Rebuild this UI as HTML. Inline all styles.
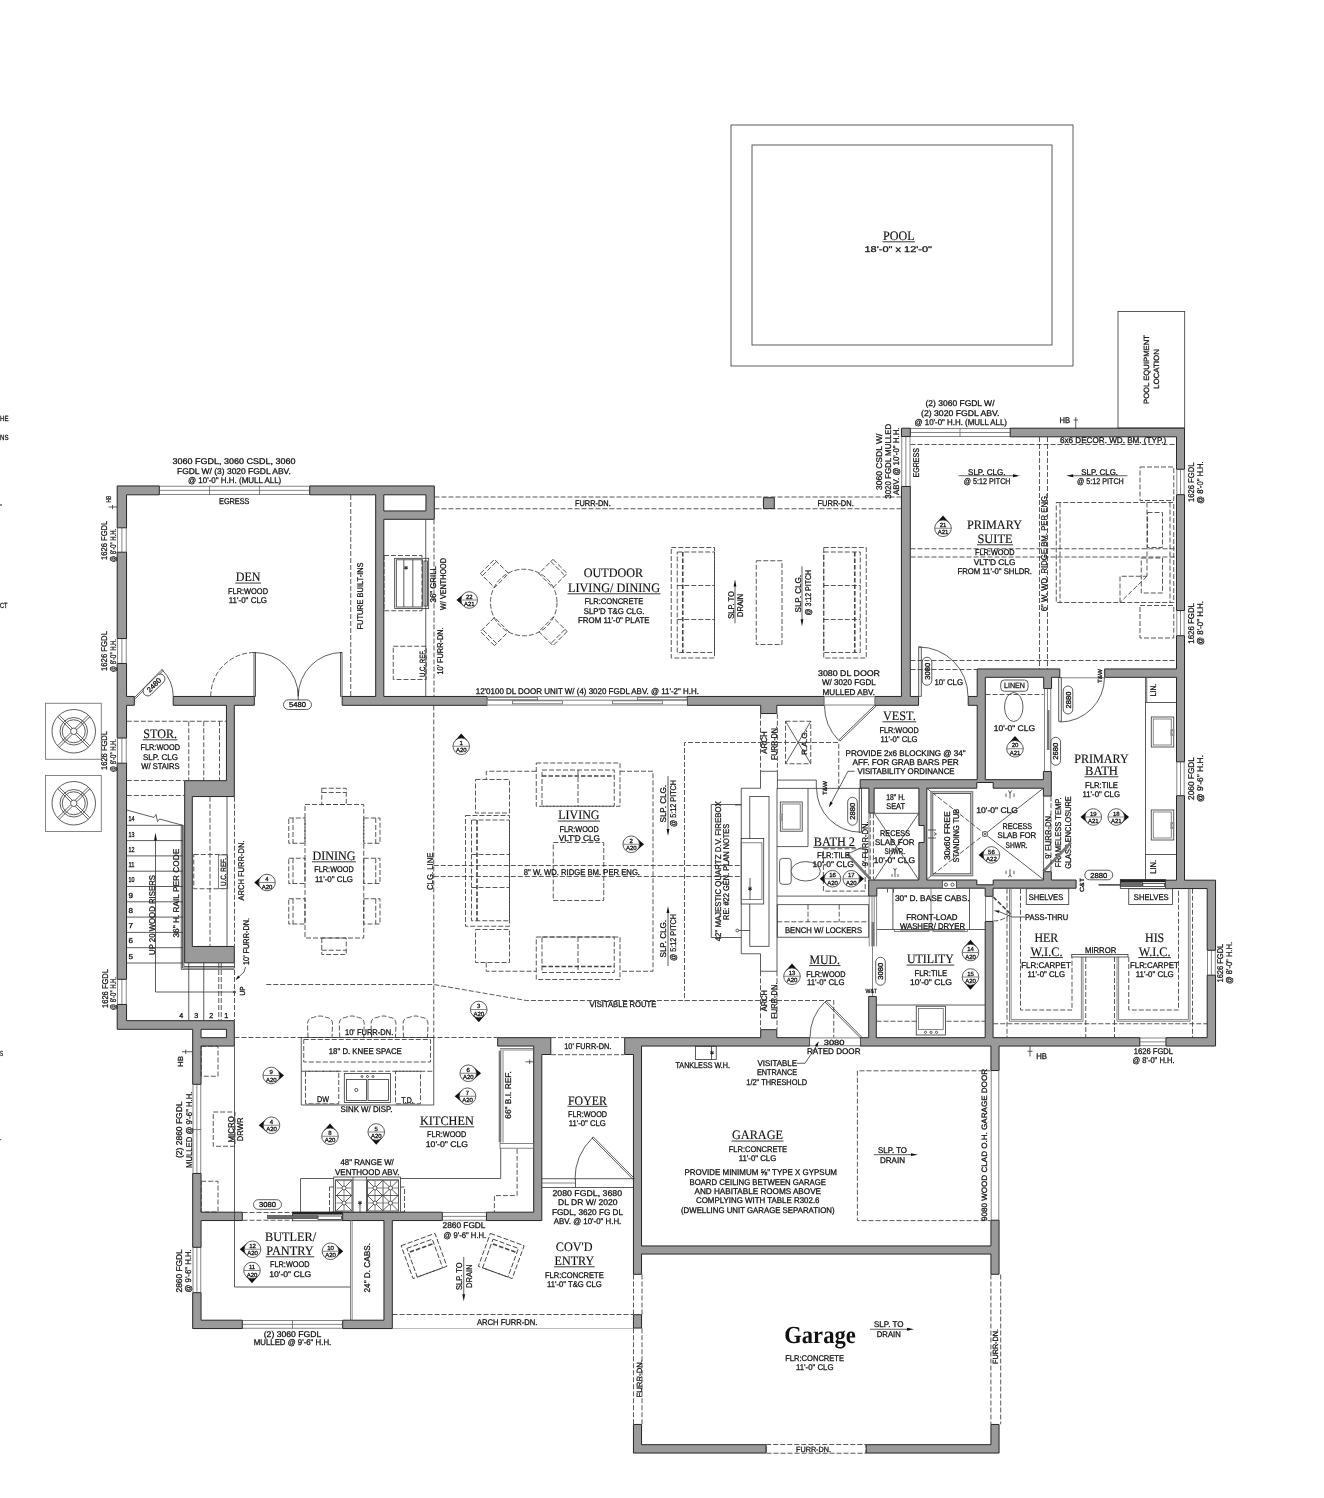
<!DOCTYPE html>
<html><head><meta charset="utf-8"><title>Floor Plan</title><style>
html,body{margin:0;padding:0;background:#fff}
svg{display:block;font-family:"Liberation Sans",sans-serif;will-change:transform;text-rendering:geometricPrecision}
.w{fill:#9a9a9a;stroke:#262626;stroke-width:1;stroke-linejoin:miter}
.t{fill:none;stroke:#333;stroke-width:.8}
.tw{fill:#fff;stroke:#333;stroke-width:.8}
.tk{fill:none;stroke:#222;stroke-width:1.3}
.g{fill:none;stroke:#666;stroke-width:.8}
.gg{fill:none;stroke:#8a8a8a;stroke-width:1.6}
.gb{fill:none;stroke:#777;stroke-width:2.6}
.d{fill:none;stroke:#3a3a3a;stroke-width:.85;stroke-dasharray:5 2}
.dd{fill:none;stroke:#555;stroke-width:.8;stroke-dasharray:1 1}
.dk{fill:none;stroke:#444;stroke-width:1.6;stroke-dasharray:4.5 2}
.wn{fill:#fff;stroke:none}
.k{fill:#111;stroke:none}
.bk{fill:#222;stroke:none}
.gf{fill:#6a6a6a;stroke:#333;stroke-width:.6}
.u{fill:none;stroke:#3a3a3a;stroke-width:1}
.l{fill:#111;stroke:#111;stroke-width:.28}
.lb{fill:#111;stroke:#111;stroke-width:.3}
.s{fill:#111;stroke:#111;stroke-width:.15;font-family:"Liberation Serif",serif}
.sb{fill:#111;font-family:"Liberation Serif",serif;font-weight:bold}
</style></head><body>
<svg width="1324" height="1498" viewBox="0 0 1324 1498">
<rect class="wn" x="159.5" y="485.75" width="150" height="9.25"/>
<path class="g" d="M159.5 486.25L309.5 486.25"/>
<path class="g" d="M159.5 490.38L309.5 490.38"/>
<path class="g" d="M159.5 494.5L309.5 494.5"/>
<path class="g" d="M209.5 485.75L209.5 495"/>
<path class="g" d="M259.5 485.75L259.5 495"/>
<rect class="wn" x="117" y="528" width="9.75" height="24"/>
<path class="g" d="M117.5 528L117.5 552"/>
<path class="g" d="M121.88 528L121.88 552"/>
<path class="g" d="M126.25 528L126.25 552"/>
<rect class="wn" x="117" y="638.75" width="9.75" height="24.5"/>
<path class="g" d="M117.5 638.75L117.5 663.25"/>
<path class="g" d="M121.88 638.75L121.88 663.25"/>
<path class="g" d="M126.25 638.75L126.25 663.25"/>
<rect class="wn" x="117" y="738.25" width="9.75" height="24.75"/>
<path class="g" d="M117.5 738.25L117.5 763"/>
<path class="g" d="M121.88 738.25L121.88 763"/>
<path class="g" d="M126.25 738.25L126.25 763"/>
<rect class="wn" x="117" y="979.5" width="9.75" height="24.75"/>
<path class="g" d="M117.5 979.5L117.5 1004.25"/>
<path class="g" d="M121.88 979.5L121.88 1004.25"/>
<path class="g" d="M126.25 979.5L126.25 1004.25"/>
<rect class="wn" x="192.5" y="1084.5" width="8.75" height="88.75"/>
<path class="g" d="M193 1084.5L193 1173.25"/>
<path class="g" d="M196.88 1084.5L196.88 1173.25"/>
<path class="g" d="M200.75 1084.5L200.75 1173.25"/>
<path class="g" d="M192.5 1129.5L201.25 1129.5"/>
<rect class="wn" x="192.5" y="1247.5" width="8.75" height="45"/>
<path class="g" d="M193 1247.5L193 1292.5"/>
<path class="g" d="M196.88 1247.5L196.88 1292.5"/>
<path class="g" d="M200.75 1247.5L200.75 1292.5"/>
<rect class="wn" x="242.5" y="1320" width="100" height="8.75"/>
<path class="g" d="M242.5 1320.5L342.5 1320.5"/>
<path class="g" d="M242.5 1324.38L342.5 1324.38"/>
<path class="g" d="M242.5 1328.25L342.5 1328.25"/>
<path class="g" d="M292.5 1320L292.5 1328.75"/>
<rect class="wn" x="442.5" y="1212" width="43.75" height="8.75"/>
<path class="g" d="M442.5 1212.5L486.25 1212.5"/>
<path class="g" d="M442.5 1216.38L486.25 1216.38"/>
<path class="g" d="M442.5 1220.25L486.25 1220.25"/>
<rect class="wn" x="901.25" y="436.75" width="9.25" height="49.5"/>
<path class="g" d="M901.75 436.75L901.75 486.25"/>
<path class="g" d="M905.88 436.75L905.88 486.25"/>
<path class="g" d="M910 436.75L910 486.25"/>
<rect class="wn" x="910.5" y="428" width="99.5" height="9"/>
<path class="g" d="M910.5 428.5L1010 428.5"/>
<path class="g" d="M910.5 432.5L1010 432.5"/>
<path class="g" d="M910.5 436.5L1010 436.5"/>
<path class="g" d="M960 428L960 437"/>
<rect class="wn" x="1176.3" y="469.5" width="8.4" height="25"/>
<path class="g" d="M1176.8 469.5L1176.8 494.5"/>
<path class="g" d="M1180.5 469.5L1180.5 494.5"/>
<path class="g" d="M1184.2 469.5L1184.2 494.5"/>
<rect class="wn" x="1176.3" y="610.75" width="8.4" height="24.75"/>
<path class="g" d="M1176.8 610.75L1176.8 635.5"/>
<path class="g" d="M1180.5 610.75L1180.5 635.5"/>
<path class="g" d="M1184.2 610.75L1184.2 635.5"/>
<rect class="wn" x="1176.3" y="762" width="8.4" height="33.5"/>
<path class="g" d="M1176.8 762L1176.8 795.5"/>
<path class="g" d="M1180.5 762L1180.5 795.5"/>
<path class="g" d="M1184.2 762L1184.2 795.5"/>
<rect class="wn" x="1207" y="950.5" width="8.75" height="24.5"/>
<path class="g" d="M1207.5 950.5L1207.5 975"/>
<path class="g" d="M1211.38 950.5L1211.38 975"/>
<path class="g" d="M1215.25 950.5L1215.25 975"/>
<rect class="wn" x="1140" y="1037.5" width="25.75" height="8.75"/>
<path class="g" d="M1140 1038L1165.75 1038"/>
<path class="g" d="M1140 1041.88L1165.75 1041.88"/>
<path class="g" d="M1140 1045.75L1165.75 1045.75"/>
<path class="w" fill-rule="evenodd" d="M1165.95 1037.7L1165.95 1046.05L1215.55 1046.05L1215.55 975.2L1207.2 975.2L1207.2 1037.7ZM1165.2 880.2L1165.2 888.55L1207.2 888.55L1207.2 950.3L1215.55 950.3L1215.55 880.2L1184.5 880.2L1184.5 795.7L1176.5 795.7L1176.5 880.2ZM1184.5 610.55L1184.5 494.7L1176.5 494.7L1176.5 610.55ZM1184.5 469.3L1184.5 428.2L1010.2 428.2L1010.2 436.8L1176.5 436.8L1176.5 469.3ZM1176.5 761.8L1184.5 761.8L1184.5 635.7L1176.5 635.7L1176.5 668.95L1104.7 668.95L1104.7 677.3L1176.5 677.3ZM860.2 1037.7L860.2 1046.05L990.95 1046.05L990.95 1070.55L999.05 1070.55L999.05 1046.05L1139.8 1046.05L1139.8 1037.7L993.05 1037.7L993.05 921.45L985.2 921.45L985.2 1037.7L876.3 1037.7L876.3 996.45L868.7 996.45L868.7 1037.7ZM874.1 813.1L874.1 788.2L918.9 788.2L918.9 825.5L924.1 825.5L924.1 842.5L918.9 842.5L918.9 880L868.7 880L868.7 896.1L876.8 896.1L876.8 888.2L985.2 888.2L985.2 896.3L993.05 896.3L993.05 888.2L1076.1 888.2L1076.1 880L1051.3 880L1051.3 871.7L1043.4 871.7L1043.4 880L993.2 880L993.2 884.8L976.8 884.8L976.8 880L926.8 880L926.8 788.2L976.8 788.2L976.8 782.5L993.2 782.5L993.2 788.2L1043.4 788.2L1043.4 796.1L1051.3 796.1L1051.3 771.5L1043.4 771.5L1043.4 779.7L985.3 779.7L985.3 677.3L1043.7 677.3L1043.7 688.55L1051.55 688.55L1051.55 677.3L1059.8 677.3L1059.8 668.95L977.2 668.95L977.2 696.45L968.2 696.45L968.2 705.3L977.2 705.3L977.2 779.7L860.2 779.7L860.2 788.2L868.9 788.2L868.9 813.1ZM999.05 1453.05L999.05 1424.45L990.95 1424.45L990.95 1444.7L866.2 1444.7L866.2 1453.05ZM624.7 1054.5L633.45 1054.5L633.45 1274.3L641.55 1274.3L641.55 1254.05L990.95 1254.05L990.95 1274.3L999.05 1274.3L999.05 1220.2L990.95 1220.2L990.95 1245.95L641.55 1245.95L641.55 1046.05L809.8 1046.05L809.8 1037.7L776.8 1037.7L776.8 1029.7L760.7 1029.7L760.7 1037.7L624.7 1037.7ZM918.55 705.3L918.55 696.45L910.3 696.45L910.3 486.45L901.45 486.45L901.45 696.45L874.7 696.45L874.7 705.3ZM910.3 428.2L901.45 428.2L901.45 436.55L910.3 436.55ZM776.8 713.55L776.8 705.3L824.3 705.3L824.3 696.45L687.2 696.45L687.2 705.3L760.7 705.3L760.7 713.55ZM774.3 508.55L774.3 497.7L763.45 497.7L763.45 508.55ZM766.05 1444.7L641.55 1444.7L641.55 1424.45L633.45 1424.45L633.45 1453.05L766.05 1453.05ZM641.55 1328.05L641.55 1314.7L633.45 1314.7L633.45 1328.05ZM486.45 1220.55L541.8 1220.55L541.8 1054.5L550.8 1054.5L550.8 1037.7L497.7 1037.7L497.7 1046.05L533.7 1046.05L533.7 1212.2L486.45 1212.2ZM487.3 696.45L383.8 696.45L383.8 519.3L434.3 519.3L434.3 485.95L309.7 485.95L309.7 494.8L375.7 494.8L375.7 696.45L342.2 696.45L342.2 705.3L487.3 705.3ZM425.95 510.95L383.8 510.95L383.8 494.8L425.95 494.8ZM383.95 1220.55L383.95 1320.2L342.7 1320.2L342.7 1328.55L392.3 1328.55L392.3 1220.55L442.3 1220.55L442.3 1212.2L342.7 1212.2L342.7 1220.55ZM184.7 780.7L184.7 962.8L234.3 962.8L234.3 946.45L192.3 946.45L192.3 796.55L234.3 796.55L234.3 705.3L254.3 705.3L254.3 696.45L173.2 696.45L173.2 705.3L226.45 705.3L226.45 780.7ZM242.3 1320.2L201.05 1320.2L201.05 1292.7L192.7 1292.7L192.7 1328.55L242.3 1328.55ZM201.05 1220.55L242.3 1220.55L242.3 1212.2L201.05 1212.2L201.05 1173.45L192.7 1173.45L192.7 1247.3L201.05 1247.3ZM192.7 1029.3L192.7 1084.3L201.05 1084.3L201.05 1046.05L234.3 1046.05L234.3 1020.7L126.55 1020.7L126.55 1004.45L117.2 1004.45L117.2 1029.3ZM226.45 1037.7L201.05 1037.7L201.05 1029.3L226.45 1029.3ZM159.3 485.95L117.2 485.95L117.2 527.8L126.55 527.8L126.55 494.8L159.3 494.8ZM134.3 705.3L134.3 696.45L126.55 696.45L126.55 663.45L117.2 663.45L117.2 738.05L126.55 738.05L126.55 705.3ZM126.55 638.55L126.55 552.2L117.2 552.2L117.2 638.55ZM126.55 979.3L126.55 763.2L117.2 763.2L117.2 979.3Z"/>
<rect class="t" x="731" y="125" width="342" height="241"/>
<rect class="t" x="752" y="145" width="300" height="200"/>
<text class="s" x="883" y="240" font-size="13" textLength="31.5" lengthAdjust="spacingAndGlyphs">POOL</text>
<path class="u" d="M882.5 241.8L915 241.8"/>
<text class="l" x="864.5" y="251.99" font-size="8.3" textLength="67.5" lengthAdjust="spacingAndGlyphs">18'-0" x 12'-0"</text>
<rect class="t" x="1118" y="311.5" width="66.7" height="116.5"/>
<text class="l" transform="translate(1146 369.5) rotate(-90)" x="-34.5" y="2.74" font-size="7.6" textLength="69" lengthAdjust="spacingAndGlyphs">POOL EQUIPMENT</text>
<text class="l" transform="translate(1156 369) rotate(-90)" x="-20" y="2.74" font-size="7.6" textLength="40" lengthAdjust="spacingAndGlyphs">LOCATION</text>
<text class="l" x="0" y="420.7" font-size="7.5" textLength="8.5" lengthAdjust="spacingAndGlyphs">HE</text>
<text class="l" x="0" y="439.7" font-size="7.5" textLength="8.5" lengthAdjust="spacingAndGlyphs">NS</text>
<text class="l" x="0" y="504.7" font-size="7.5" textLength="2" lengthAdjust="spacingAndGlyphs">,</text>
<text class="l" x="0" y="608.2" font-size="7.5" textLength="7.5" lengthAdjust="spacingAndGlyphs">CT</text>
<text class="l" x="0" y="1055.7" font-size="7.5" textLength="3" lengthAdjust="spacingAndGlyphs">S</text>
<text class="l" x="0" y="1139.7" font-size="7.5" textLength="1.5" lengthAdjust="spacingAndGlyphs">.</text>
<text class="l" x="172.5" y="464.24" font-size="8.3" textLength="123" lengthAdjust="spacingAndGlyphs">3060 FGDL, 3060 CSDL, 3060</text>
<text class="l" x="177" y="473.99" font-size="8.3" textLength="113.75" lengthAdjust="spacingAndGlyphs">FGDL W/ (3) 3020 FGDL ABV.</text>
<text class="l" x="188" y="482.99" font-size="8.3" textLength="93.25" lengthAdjust="spacingAndGlyphs">@ 10'-0" H.H. (MULL ALL)</text>
<text class="l" x="219" y="503.99" font-size="8.3" textLength="30.5" lengthAdjust="spacingAndGlyphs">EGRESS</text>
<text class="s" x="235.75" y="581.25" font-size="13" textLength="24.75" lengthAdjust="spacingAndGlyphs">DEN</text>
<path class="u" d="M235.25 583.05L261 583.05"/>
<text class="l" x="228" y="593.99" font-size="8.3" textLength="40" lengthAdjust="spacingAndGlyphs">FLR:WOOD</text>
<text class="l" x="228.75" y="602.99" font-size="8.3" textLength="38.25" lengthAdjust="spacingAndGlyphs">11'-0" CLG</text>
<path class="d" d="M350.75 495L350.75 696.25"/>
<text class="l" transform="translate(360 596) rotate(-90)" x="-33.5" y="2.99" font-size="8.3" textLength="67" lengthAdjust="spacingAndGlyphs">FUTURE BUILT-INS</text>
<text class="l" transform="translate(103.8 540.38) rotate(-90)" x="-19.62" y="2.99" font-size="8.3" textLength="39.25" lengthAdjust="spacingAndGlyphs">1626 FGDL</text>
<text class="l" transform="translate(113.4 545.38) rotate(-90)" x="-16.62" y="2.99" font-size="8.3" textLength="33.25" lengthAdjust="spacingAndGlyphs">@ 8'-0" H.H.</text>
<text class="l" transform="translate(103.8 651) rotate(-90)" x="-20" y="2.99" font-size="8.3" textLength="40" lengthAdjust="spacingAndGlyphs">1626 FGDL</text>
<text class="l" transform="translate(113.4 655.5) rotate(-90)" x="-16.5" y="2.99" font-size="8.3" textLength="33" lengthAdjust="spacingAndGlyphs">@ 8'-0" H.H.</text>
<text class="l" transform="translate(103.8 750.5) rotate(-90)" x="-19.5" y="2.99" font-size="8.3" textLength="39" lengthAdjust="spacingAndGlyphs">1626 FGDL</text>
<text class="l" transform="translate(113.4 755.5) rotate(-90)" x="-16.5" y="2.99" font-size="8.3" textLength="33" lengthAdjust="spacingAndGlyphs">@ 8'-0" H.H.</text>
<text class="l" transform="translate(104.5 988.5) rotate(-90)" x="-19.5" y="2.99" font-size="8.3" textLength="39" lengthAdjust="spacingAndGlyphs">1626 FGDL</text>
<text class="l" transform="translate(113.25 993.5) rotate(-90)" x="-16.5" y="2.99" font-size="8.3" textLength="33" lengthAdjust="spacingAndGlyphs">@ 8'-0" H.H.</text>
<text class="l" transform="translate(108.25 499.25) rotate(-90)" x="-3.25" y="2.52" font-size="7" textLength="6.5" lengthAdjust="spacingAndGlyphs">HB</text>
<path class="t" d="M108.5 507L117 507"/>
<path class="t" d="M112.5 505L112.5 509"/>
<path class="t" d="M134.5 697.5L162 669.5L163 670.6L135.6 698.4Z"/>
<path class="t" d="M161.7 669.33A38.8 38.8 0 0 1 173.29 696.32"/>
<g transform="translate(154 685) rotate(-45)"><rect class="tw" x="-13.5" y="-4.7" width="27" height="9.4" rx="4.7"/><text class="lb" text-anchor="middle" x="0" y="2.6" font-size="7.2" textLength="17" lengthAdjust="spacingAndGlyphs">2480</text></g>
<rect class="t" x="254" y="652.5" width="1.6" height="43.75"/>
<rect class="t" x="340.4" y="652.5" width="1.6" height="43.75"/>
<path class="d" d="M210.75 696.25A43.75 43.75 0 0 1 254.5 652.5"/>
<path class="t" d="M254.5 652.5A43.75 43.75 0 0 1 298.25 696.25"/>
<path class="t" d="M298.25 696.25A43.75 43.75 0 0 1 342 652.5"/>
<path class="t" d="M298.25 690L298.25 700"/>
<g transform="translate(297.5 704.7) rotate(0)"><rect class="tw" x="-14" y="-4.8" width="28" height="9.6" rx="4.8"/><text class="lb" text-anchor="middle" x="0" y="2.6" font-size="7.2" textLength="17" lengthAdjust="spacingAndGlyphs">5480</text></g>
<text class="s" x="143.25" y="738" font-size="13" textLength="33.75" lengthAdjust="spacingAndGlyphs">STOR.</text>
<path class="u" d="M142.75 739.8L177.5 739.8"/>
<text class="l" x="140.5" y="750.49" font-size="8.3" textLength="39.5" lengthAdjust="spacingAndGlyphs">FLR:WOOD</text>
<text class="l" x="143" y="759.74" font-size="8.3" textLength="35" lengthAdjust="spacingAndGlyphs">SLP. CLG</text>
<text class="l" x="141.25" y="769.24" font-size="8.3" textLength="38.25" lengthAdjust="spacingAndGlyphs">W/ STAIRS</text>
<path class="d" d="M126.75 721.25L226.25 721.25"/>
<path class="d" d="M188.75 721.25L188.75 780.5"/>
<path class="d" d="M203.75 721.25L203.75 780.5"/>
<path class="d" d="M219.5 721.25L219.5 780.5"/>
<path class="d" d="M126.75 780.5L184.5 780.5"/>
<path class="d" d="M126.75 795.5L184.5 795.5"/>
<path class="t" d="M126.75 825.3L183 825.3"/>
<path class="t" d="M126.75 840.6L183 840.6"/>
<path class="t" d="M126.75 855.9L183 855.9"/>
<path class="t" d="M126.75 871.2L183 871.2"/>
<path class="t" d="M126.75 886.5L183 886.5"/>
<path class="t" d="M126.75 901.8L183 901.8"/>
<path class="t" d="M126.75 917.1L183 917.1"/>
<path class="t" d="M126.75 932.4L183 932.4"/>
<path class="t" d="M126.75 947.7L183 947.7"/>
<path class="t" d="M126.75 963L183 963"/>
<path class="t" d="M126.75 810L154 817.5L156 814.5L157.5 821.5L159.5 819L183.5 825.5"/>
<text class="l" x="128.5" y="821.34" font-size="7.2" textLength="6" lengthAdjust="spacingAndGlyphs">14</text>
<text class="l" x="128.5" y="836.59" font-size="7.2" textLength="6" lengthAdjust="spacingAndGlyphs">13</text>
<text class="l" x="128.5" y="851.84" font-size="7.2" textLength="6" lengthAdjust="spacingAndGlyphs">12</text>
<text class="l" x="128.5" y="867.09" font-size="7.2" textLength="6" lengthAdjust="spacingAndGlyphs">11</text>
<text class="l" x="128.5" y="882.34" font-size="7.2" textLength="6" lengthAdjust="spacingAndGlyphs">10</text>
<text class="l" x="128.5" y="897.59" font-size="7.2" textLength="4.5" lengthAdjust="spacingAndGlyphs">9</text>
<text class="l" x="128.5" y="912.84" font-size="7.2" textLength="4.5" lengthAdjust="spacingAndGlyphs">8</text>
<text class="l" x="128.5" y="928.09" font-size="7.2" textLength="4.5" lengthAdjust="spacingAndGlyphs">7</text>
<text class="l" x="128.5" y="943.34" font-size="7.2" textLength="4.5" lengthAdjust="spacingAndGlyphs">6</text>
<text class="l" x="128.5" y="958.59" font-size="7.2" textLength="4.5" lengthAdjust="spacingAndGlyphs">5</text>
<text class="l" x="179.25" y="1018.09" font-size="7.2" textLength="4" lengthAdjust="spacingAndGlyphs">4</text>
<text class="l" x="194.25" y="1018.09" font-size="7.2" textLength="4" lengthAdjust="spacingAndGlyphs">3</text>
<text class="l" x="209.25" y="1018.09" font-size="7.2" textLength="4" lengthAdjust="spacingAndGlyphs">2</text>
<text class="l" x="224.25" y="1018.09" font-size="7.2" textLength="4" lengthAdjust="spacingAndGlyphs">1</text>
<path class="t" d="M181.25 825.5L181.25 969.3L234.5 969.3"/>
<path class="t" d="M182.55 825.5L182.55 968L234.5 968"/>
<path class="t" d="M183.85 825.5L183.85 966.5L234.5 966.5"/>
<path class="t" d="M188.75 963L188.75 1020.5"/>
<path class="t" d="M203.75 963L203.75 1020.5"/>
<path class="d" d="M218.75 963L218.75 1020.5"/>
<path class="d" d="M221.25 963L221.25 1020.5"/>
<path class="d" d="M234.5 963L234.5 1020.5"/>
<path class="t" d="M155.5 840L155.5 992L234.5 992"/>
<path class="k" d="M155.5 832.5L156.9 840.5L154.1 840.5Z"/>
<circle class="t" cx="234.5" cy="992" r="1.1"/>
<text class="l" transform="translate(151.75 915) rotate(-90)" x="-40" y="2.99" font-size="8.3" textLength="80" lengthAdjust="spacingAndGlyphs">UP 20 WOOD RISERS</text>
<text class="l" transform="translate(176.25 893.12) rotate(-90)" x="-44.38" y="2.99" font-size="8.3" textLength="88.75" lengthAdjust="spacingAndGlyphs">36" H. RAIL PER CODE</text>
<rect class="d" x="193.75" y="854.5" width="33.75" height="34.25"/>
<rect class="g" x="218.5" y="855" width="9" height="33.5"/>
<text class="l" transform="translate(222.75 872) rotate(-90)" x="-14" y="2.74" font-size="7.6" textLength="28" lengthAdjust="spacingAndGlyphs">U.C. REF.</text>
<path class="d" d="M210 796.75L210 946.25"/>
<path class="t" d="M227 796.75L227 946.25"/>
<path class="d" d="M234.5 796.75L234.5 946.25"/>
<text class="l" transform="translate(240.5 870.5) rotate(-90)" x="-30" y="2.99" font-size="8.3" textLength="60" lengthAdjust="spacingAndGlyphs">ARCH FURR-DN.</text>
<text class="l" transform="translate(245.5 941.5) rotate(-90)" x="-23.5" y="2.99" font-size="8.3" textLength="47" lengthAdjust="spacingAndGlyphs">10' FURR-DN.</text>
<path class="t" d="M245.5 967L244 972L236.5 979"/>
<path class="k" d="M235.5 980L238.12 975.55L239.95 977.38Z"/>
<text class="l" transform="translate(242 991) rotate(-90)" x="-4.5" y="2.66" font-size="7.4" textLength="9" lengthAdjust="spacingAndGlyphs">UP</text>
<path class="k" d="M254.2 882.5L261.62 876.18L267 882.5L261.62 888.82Z"/>
<circle class="tw" cx="267" cy="882.5" r="8.3"/>
<path class="g" d="M258.7 882.5L275.3 882.5"/>
<text class="l" text-anchor="middle" x="267" y="881.2" font-size="6">4</text>
<text class="l" text-anchor="middle" x="267" y="888.5" font-size="6">A20</text>
<rect class="g" x="45.5" y="703.25" width="55.75" height="56"/>
<circle class="t" cx="73.75" cy="731.25" r="21.75"/>
<circle class="t" cx="73.75" cy="731.25" r="13.75"/>
<circle class="t" cx="73.75" cy="731.25" r="11.5"/>
<circle class="tw" cx="73.75" cy="731.25" r="3.2"/>
<path class="t" d="M76.86 732.81L89.73 745.67"/>
<path class="t" d="M75.31 734.36L88.17 747.23"/>
<path class="t" d="M72.19 734.36L59.33 747.23"/>
<path class="t" d="M70.64 732.81L57.77 745.67"/>
<path class="t" d="M70.64 729.69L57.77 716.83"/>
<path class="t" d="M72.19 728.14L59.33 715.27"/>
<path class="t" d="M75.31 728.14L88.17 715.27"/>
<path class="t" d="M76.86 729.69L89.73 716.83"/>
<rect class="g" x="45.5" y="775.5" width="55.75" height="56"/>
<circle class="t" cx="73.75" cy="803.25" r="21.75"/>
<circle class="t" cx="73.75" cy="803.25" r="13.75"/>
<circle class="t" cx="73.75" cy="803.25" r="11.5"/>
<circle class="tw" cx="73.75" cy="803.25" r="3.2"/>
<path class="t" d="M76.86 804.81L89.73 817.67"/>
<path class="t" d="M75.31 806.36L88.17 819.23"/>
<path class="t" d="M72.19 806.36L59.33 819.23"/>
<path class="t" d="M70.64 804.81L57.77 817.67"/>
<path class="t" d="M70.64 801.69L57.77 788.83"/>
<path class="t" d="M72.19 800.14L59.33 787.27"/>
<path class="t" d="M75.31 800.14L88.17 787.27"/>
<path class="t" d="M76.86 801.69L89.73 788.83"/>
<path class="t" d="M425.75 519.5L425.75 696.25"/>
<path class="d" d="M434 519.5L434 696.25"/>
<path class="d" d="M433.75 705.5L433.75 1037.5"/>
<rect class="d" x="384" y="555.5" width="38" height="55.25"/>
<rect class="t" x="394.7" y="558.3" width="34" height="50.2"/>
<rect class="t" x="396.3" y="559.8" width="26" height="47.2"/>
<path class="t" d="M403.8 559.8L403.8 607"/>
<path class="t" d="M412.8 559.8L412.8 607"/>
<rect class="t" x="424" y="561" width="3.5" height="45"/>
<path class="gg" d="M425.7 562L425.7 605"/>
<text class="l" x="403.5" y="570.16" font-size="6" textLength="5" lengthAdjust="spacingAndGlyphs">✶</text>
<rect class="d" x="393.25" y="646.25" width="33" height="33.25"/>
<text class="l" transform="translate(421.75 663.5) rotate(-90)" x="-13.5" y="2.74" font-size="7.6" textLength="27" lengthAdjust="spacingAndGlyphs">U.C. REF.</text>
<text class="l" transform="translate(433 584.25) rotate(-90)" x="-18.25" y="2.99" font-size="8.3" textLength="36.5" lengthAdjust="spacingAndGlyphs">36" GRILL</text>
<text class="l" transform="translate(443 584) rotate(-90)" x="-26" y="2.99" font-size="8.3" textLength="52" lengthAdjust="spacingAndGlyphs">W/ VENTHOOD</text>
<text class="l" transform="translate(439.5 651) rotate(-90)" x="-23.5" y="2.99" font-size="8.3" textLength="47" lengthAdjust="spacingAndGlyphs">10' FURR-DN.</text>
<path class="k" d="M456.45 600L463.87 593.68L469.25 600L463.87 606.32Z"/>
<circle class="tw" cx="469.25" cy="600" r="8.3"/>
<path class="g" d="M460.95 600L477.55 600"/>
<text class="l" text-anchor="middle" x="469.25" y="598.7" font-size="6">22</text>
<text class="l" text-anchor="middle" x="469.25" y="606" font-size="6">A21</text>
<path class="k" d="M461.25 733.45L454.93 740.87L461.25 746.25L467.57 740.87Z"/>
<circle class="tw" cx="461.25" cy="746.25" r="8.3"/>
<path class="g" d="M452.95 746.25L469.55 746.25"/>
<text class="l" text-anchor="middle" x="461.25" y="744.95" font-size="6">1</text>
<text class="l" text-anchor="middle" x="461.25" y="752.25" font-size="6">A20</text>
<path class="d" d="M434.5 497L901.25 497"/>
<path class="d" d="M434.5 508.75L901.25 508.75"/>
<text class="l" x="575" y="505.99" font-size="8.3" textLength="35.75" lengthAdjust="spacingAndGlyphs">FURR-DN.</text>
<text class="l" x="817.5" y="505.99" font-size="8.3" textLength="36.25" lengthAdjust="spacingAndGlyphs">FURR-DN.</text>
<circle class="d" cx="523.75" cy="602.5" r="33.25"/>
<g transform="translate(494.5 573.5) rotate(-45)"><rect class="d" x="-10" y="-10" width="20" height="20"/><path class="d" d="M-10 -7L10 -7"/></g>
<g transform="translate(553 573.5) rotate(45)"><rect class="d" x="-10" y="-10" width="20" height="20"/><path class="d" d="M-10 -7L10 -7"/></g>
<g transform="translate(494.5 631.5) rotate(-135)"><rect class="d" x="-10" y="-10" width="20" height="20"/><path class="d" d="M-10 -7L10 -7"/></g>
<g transform="translate(553 631.5) rotate(135)"><rect class="d" x="-10" y="-10" width="20" height="20"/><path class="d" d="M-10 -7L10 -7"/></g>
<text class="s" x="583.75" y="577" font-size="13" textLength="59.5" lengthAdjust="spacingAndGlyphs">OUTDOOR</text>
<text class="s" x="568" y="592" font-size="13" textLength="92" lengthAdjust="spacingAndGlyphs">LIVING/ DINING</text>
<path class="u" d="M567.5 593.8L660.5 593.8"/>
<text class="l" x="584.5" y="604.24" font-size="8.3" textLength="58.75" lengthAdjust="spacingAndGlyphs">FLR:CONCRETE</text>
<text class="l" x="583.75" y="613.74" font-size="8.3" textLength="60.75" lengthAdjust="spacingAndGlyphs">SLP'D T&amp;G CLG.</text>
<text class="l" x="578" y="622.99" font-size="8.3" textLength="71.5" lengthAdjust="spacingAndGlyphs">FROM 11'-0" PLATE</text>
<text class="l" x="475.75" y="694.49" font-size="8.3" textLength="223.25" lengthAdjust="spacingAndGlyphs">12'0100 DL DOOR UNIT W/ (4) 3020 FGDL ABV. @ 11'-2" H.H.</text>
<rect class="wn" x="487.5" y="696.25" width="199.5" height="9.25"/>
<path class="g" d="M487.5 696.7L687 696.7"/>
<path class="g" d="M487.5 705L687 705"/>
<path class="g" d="M487.5 700.2L687 700.2"/>
<rect class="g" x="487.7" y="697.3" width="49.9" height="2.5"/>
<rect class="g" x="637.5" y="697.3" width="49.5" height="2.5"/>
<rect class="g" x="512.6" y="700.8" width="50" height="3"/>
<rect class="g" x="612.6" y="700.8" width="49.9" height="3"/>
<rect class="d" x="671.25" y="547.5" width="43.25" height="110.5"/>
<rect class="d" x="677.25" y="552" width="37.25" height="100.5"/>
<path class="dk" d="M682.75 552L682.75 652.5"/>
<path class="d" d="M677.25 585.5L714.5 585.5"/>
<path class="d" d="M677.25 619.5L714.5 619.5"/>
<rect class="d" x="823.75" y="547.5" width="42.5" height="110.5"/>
<rect class="d" x="823.75" y="552" width="36.5" height="100.5"/>
<path class="dk" d="M854.75 552L854.75 652.5"/>
<path class="d" d="M823.75 585.5L860.25 585.5"/>
<path class="d" d="M823.75 619.5L860.25 619.5"/>
<rect class="d" x="756.25" y="560.75" width="25.75" height="83.75"/>
<text class="l" transform="translate(730.5 605) rotate(-90)" x="-13.75" y="2.99" font-size="8.3" textLength="27.5" lengthAdjust="spacingAndGlyphs">SLP. TO</text>
<text class="l" transform="translate(740 605.38) rotate(-90)" x="-11.62" y="2.99" font-size="8.3" textLength="23.25" lengthAdjust="spacingAndGlyphs">DRAIN</text>
<path class="t" d="M735 585L735 623.25"/>
<path class="k" d="M735 579.5L736.4 586.5L733.6 586.5Z"/>
<text class="l" transform="translate(797.5 593.75) rotate(-90)" x="-18.75" y="2.99" font-size="8.3" textLength="37.5" lengthAdjust="spacingAndGlyphs">SLP. CLG.</text>
<text class="l" transform="translate(807.5 592.75) rotate(-90)" x="-22.75" y="2.99" font-size="8.3" textLength="45.5" lengthAdjust="spacingAndGlyphs">@ 3:12 PITCH</text>
<path class="t" d="M802 566.25L802 620"/>
<path class="k" d="M802 626.25L800.6 619.25L803.4 619.25Z"/>
<text class="l" x="818" y="675.99" font-size="8.3" textLength="62" lengthAdjust="spacingAndGlyphs">3080 DL DOOR</text>
<text class="l" x="822" y="685.49" font-size="8.3" textLength="53.75" lengthAdjust="spacingAndGlyphs">W/ 3020 FGDL</text>
<text class="l" x="822.5" y="694.74" font-size="8.3" textLength="52.5" lengthAdjust="spacingAndGlyphs">MULLED ABV.</text>
<text class="l" transform="translate(878.75 461.88) rotate(-90)" x="-28.12" y="2.99" font-size="8.3" textLength="56.25" lengthAdjust="spacingAndGlyphs">3060 CSDL W/</text>
<text class="l" transform="translate(887.5 461.25) rotate(-90)" x="-37.5" y="2.99" font-size="8.3" textLength="75" lengthAdjust="spacingAndGlyphs">3020 FGDL MULLED</text>
<text class="l" transform="translate(896.25 461.25) rotate(-90)" x="-33.75" y="2.99" font-size="8.3" textLength="67.5" lengthAdjust="spacingAndGlyphs">ABV. @ 10'-0" H.H.</text>
<rect class="wn" x="824.5" y="696.25" width="50" height="9.25"/>
<path class="g" d="M824.5 696.7L874.5 696.7"/>
<path class="g" d="M824.5 705L874.5 705"/>
<path class="t" d="M874.5 705.5L838.75 740L839.9 741.2L875.6 706.6Z"/>
<path class="t" d="M838.53 740.23A50 50 0 0 1 824.5 705.5"/>
<text class="s" x="883" y="720" font-size="13" textLength="32.75" lengthAdjust="spacingAndGlyphs">VEST.</text>
<path class="u" d="M882.5 721.8L916.25 721.8"/>
<text class="l" x="879.5" y="732.99" font-size="8.3" textLength="39.25" lengthAdjust="spacingAndGlyphs">FLR:WOOD</text>
<text class="l" x="880.5" y="742.24" font-size="8.3" textLength="37" lengthAdjust="spacingAndGlyphs">11'-0" CLG</text>
<text class="l" x="845.5" y="755.99" font-size="8.3" textLength="120" lengthAdjust="spacingAndGlyphs">PROVIDE 2x6 BLOCKING @ 34"</text>
<text class="l" x="852.5" y="764.99" font-size="8.3" textLength="106.25" lengthAdjust="spacingAndGlyphs">AFF. FOR GRAB BARS PER</text>
<text class="l" x="857.5" y="773.74" font-size="8.3" textLength="97" lengthAdjust="spacingAndGlyphs">VISITABILITY ORDINANCE</text>
<path class="t" d="M854.5 771.25L848 771.25L830.5 804"/>
<path class="k" d="M828.75 807.5L830.24 801.5L832.89 802.91Z"/>
<rect class="d" x="785.5" y="721.25" width="25.25" height="42.5"/>
<path class="t" d="M785.5 721.25L810.75 763.75"/>
<path class="t" d="M810.75 721.25L785.5 763.75"/>
<text class="l" transform="translate(804.5 742.5) rotate(-90)" x="-12.5" y="2.74" font-size="7.6" textLength="25" lengthAdjust="spacingAndGlyphs">R.A.G.</text>
<path class="d" d="M760.5 713.75L760.5 771.25"/>
<path class="d" d="M777.4 713.75L777.4 771.25"/>
<path class="t" d="M777.4 771.25L777.4 788.25"/>
<text class="l" transform="translate(764.25 742.5) rotate(-90)" x="-11.25" y="2.99" font-size="8.3" textLength="22.5" lengthAdjust="spacingAndGlyphs">ARCH</text>
<text class="l" transform="translate(773.75 743.12) rotate(-90)" x="-16.88" y="2.99" font-size="8.3" textLength="33.75" lengthAdjust="spacingAndGlyphs">FURR-DN.</text>
<rect class="t" x="918.75" y="647" width="2.5" height="49.25"/>
<path class="t" d="M918.75 647A49.25 49.25 0 0 1 968 696.25"/>
<g transform="translate(927 671.25) rotate(-90)"><rect class="tw" x="-14" y="-4.8" width="28" height="9.6" rx="4.8"/><text class="lb" text-anchor="middle" x="0" y="2.6" font-size="7.2" textLength="17" lengthAdjust="spacingAndGlyphs">3080</text></g>
<text class="l" x="934.5" y="684.99" font-size="8.3" textLength="28.5" lengthAdjust="spacingAndGlyphs">10' CLG</text>
<path class="d" d="M910.5 444.5L1176.25 444.5"/>
<path class="d" d="M910.5 548.75L1176.25 548.75"/>
<path class="d" d="M910.5 557L1176.25 557"/>
<path class="d" d="M910.5 660.5L1176.25 660.5"/>
<path class="d" d="M910.5 669.5L977 669.5"/>
<path class="d" d="M1039.5 437L1039.5 668.75"/>
<path class="d" d="M1047.5 437L1047.5 668.75"/>
<text class="l" x="925.5" y="406.49" font-size="8.3" textLength="69" lengthAdjust="spacingAndGlyphs">(2) 3060 FGDL W/</text>
<text class="l" x="921" y="415.99" font-size="8.3" textLength="78.5" lengthAdjust="spacingAndGlyphs">(2) 3020 FGDL ABV.</text>
<text class="l" x="914.5" y="425.49" font-size="8.3" textLength="92.5" lengthAdjust="spacingAndGlyphs">@ 10'-0" H.H. (MULL ALL)</text>
<text class="l" x="1059.5" y="422.99" font-size="8.3" textLength="10.5" lengthAdjust="spacingAndGlyphs">HB</text>
<path class="t" d="M1075.75 417L1075.75 428"/>
<path class="t" d="M1073.5 420L1078 420"/>
<text class="l" x="1060" y="443.49" font-size="8.3" textLength="106.25" lengthAdjust="spacingAndGlyphs">6x6 DECOR. WD. BM. (TYP.)</text>
<text class="l" transform="translate(915.75 462.75) rotate(-90)" x="-14.75" y="2.99" font-size="8.3" textLength="29.5" lengthAdjust="spacingAndGlyphs">EGRESS</text>
<text class="l" x="968" y="474.99" font-size="8.3" textLength="37.5" lengthAdjust="spacingAndGlyphs">SLP. CLG.</text>
<path class="t" d="M958.75 475.75L1014 475.75"/>
<path class="k" d="M1020 475.75L1013 477.15L1013 474.35Z"/>
<text class="l" x="963.75" y="483.74" font-size="8.3" textLength="46.75" lengthAdjust="spacingAndGlyphs">@ 5:12 PITCH</text>
<text class="l" x="1081.25" y="474.99" font-size="8.3" textLength="36.75" lengthAdjust="spacingAndGlyphs">SLP. CLG.</text>
<path class="t" d="M1072 475.75L1127.5 475.75"/>
<path class="k" d="M1066.25 475.75L1073.25 474.35L1073.25 477.15Z"/>
<text class="l" x="1077" y="483.74" font-size="8.3" textLength="46.75" lengthAdjust="spacingAndGlyphs">@ 5:12 PITCH</text>
<text class="l" transform="translate(1043.75 552.5) rotate(-90)" x="-58.75" y="2.99" font-size="8.3" textLength="117.5" lengthAdjust="spacingAndGlyphs">6" W. WD. RIDGE BM. PER ENG.</text>
<path class="k" d="M943 515.45L936.68 522.87L943 528.25L949.32 522.87Z"/>
<circle class="tw" cx="943" cy="528.25" r="8.3"/>
<path class="g" d="M934.7 528.25L951.3 528.25"/>
<text class="l" text-anchor="middle" x="943" y="526.95" font-size="6">21</text>
<text class="l" text-anchor="middle" x="943" y="534.25" font-size="6">A21</text>
<text class="s" x="967" y="529.25" font-size="13" textLength="55" lengthAdjust="spacingAndGlyphs">PRIMARY</text>
<text class="s" x="977.5" y="543" font-size="13" textLength="35" lengthAdjust="spacingAndGlyphs">SUITE</text>
<path class="u" d="M977 544.8L1013 544.8"/>
<text class="l" x="975" y="555.49" font-size="8.3" textLength="39.5" lengthAdjust="spacingAndGlyphs">FLR:WOOD</text>
<text class="l" x="973.75" y="564.99" font-size="8.3" textLength="41.75" lengthAdjust="spacingAndGlyphs">VLT'D CLG</text>
<text class="l" x="957.5" y="574.24" font-size="8.3" textLength="74.5" lengthAdjust="spacingAndGlyphs">FROM 11'-0" SHLDR.</text>
<rect class="d" x="1056.25" y="502.5" width="117.5" height="100"/>
<path class="d" d="M1060 502.5L1060 602.5"/>
<path class="d" d="M1170 502.5L1170 602.5"/>
<rect class="d" x="1147.5" y="512.5" width="15" height="35"/>
<rect class="d" x="1141.25" y="558" width="21.25" height="35"/>
<path class="d" d="M1147 502.5L1147 576.25"/>
<path class="d" d="M1147 576.25L1120 602.5"/>
<path class="d" d="M1120 602.5L1120 576.25L1147 576.25"/>
<rect class="d" x="1140" y="467" width="33.75" height="33.5"/>
<rect class="d" x="1140" y="605.5" width="33.75" height="32.5"/>
<text class="l" transform="translate(1190.75 482.25) rotate(-90)" x="-19.75" y="2.99" font-size="8.3" textLength="39.5" lengthAdjust="spacingAndGlyphs">1626 FGDL</text>
<text class="l" transform="translate(1200 482.5) rotate(-90)" x="-21.25" y="2.99" font-size="8.3" textLength="42.5" lengthAdjust="spacingAndGlyphs">@ 8'-0" H.H.</text>
<text class="l" transform="translate(1190.75 623.38) rotate(-90)" x="-20.38" y="2.99" font-size="8.3" textLength="40.75" lengthAdjust="spacingAndGlyphs">1626 FGDL</text>
<text class="l" transform="translate(1200 623) rotate(-90)" x="-22" y="2.99" font-size="8.3" textLength="44" lengthAdjust="spacingAndGlyphs">@ 8'-0" H.H.</text>
<text class="l" transform="translate(1190.75 778.5) rotate(-90)" x="-21.5" y="2.99" font-size="8.3" textLength="43" lengthAdjust="spacingAndGlyphs">2060 FGDL</text>
<text class="l" transform="translate(1200 778.5) rotate(-90)" x="-23.5" y="2.99" font-size="8.3" textLength="47" lengthAdjust="spacingAndGlyphs">@ 9'-6" H.H.</text>
<rect class="tw" x="1000.75" y="680" width="27.25" height="11.25" rx="3.5"/>
<text class="l" x="1004" y="688.49" font-size="7.6" textLength="21" lengthAdjust="spacingAndGlyphs">LINEN</text>
<ellipse class="t" cx="1013.75" cy="707" rx="9.25" ry="14.5"/>
<path class="d" d="M985.5 694.5L1043.5 694.5"/>
<text class="l" x="993.75" y="730.99" font-size="8.3" textLength="41.25" lengthAdjust="spacingAndGlyphs">10'-0" CLG</text>
<path class="k" d="M1015 735.95L1008.68 743.37L1015 748.75L1021.32 743.37Z"/>
<circle class="tw" cx="1015" cy="748.75" r="8.3"/>
<path class="g" d="M1006.7 748.75L1023.3 748.75"/>
<text class="l" text-anchor="middle" x="1015" y="747.45" font-size="6">20</text>
<text class="l" text-anchor="middle" x="1015" y="754.75" font-size="6">A21</text>
<path class="g" d="M1044.5 688.75L1044.5 771.3"/>
<path class="g" d="M1050.75 688.75L1050.75 771.3"/>
<path class="g" d="M1047.5 688.75L1047.5 712"/>
<path class="gb" d="M1048.2 710L1048.2 750"/>
<g transform="translate(1055.75 751.25) rotate(-90)"><rect class="tw" x="-14" y="-4.8" width="28" height="9.6" rx="4.8"/><text class="lb" text-anchor="middle" x="0" y="2.6" font-size="7.2" textLength="17" lengthAdjust="spacingAndGlyphs">2680</text></g>
<rect class="t" x="1058.75" y="677.5" width="2.5" height="43.75"/>
<path class="t" d="M1104.5 677.5A44.5 44.5 0 0 1 1060 722"/>
<path class="g" d="M1060 677.8L1104.5 677.8"/>
<g transform="translate(1068 700) rotate(-90)"><rect class="tw" x="-14" y="-4.8" width="28" height="9.6" rx="4.8"/><text class="lb" text-anchor="middle" x="0" y="2.6" font-size="7.2" textLength="17" lengthAdjust="spacingAndGlyphs">2880</text></g>
<text class="l" transform="translate(1100 676) rotate(-90)" x="-7" y="2.16" font-size="6" textLength="14" lengthAdjust="spacingAndGlyphs">T&amp;W</text>
<path class="t" d="M1145.5 677.5L1145.5 880"/>
<path class="t" d="M1145.5 702.5L1176.25 702.5"/>
<path class="t" d="M1145.5 854.5L1176.25 854.5"/>
<path class="gg" d="M1146.5 678L1146.5 702"/>
<text class="l" transform="translate(1153.25 690) rotate(-90)" x="-6.25" y="2.99" font-size="8.3" textLength="12.5" lengthAdjust="spacingAndGlyphs">LIN.</text>
<text class="l" transform="translate(1153.25 866.88) rotate(-90)" x="-6.88" y="2.99" font-size="8.3" textLength="13.75" lengthAdjust="spacingAndGlyphs">LIN.</text>
<rect class="t" x="1151.25" y="717" width="22.5" height="30"/>
<rect class="g" x="1153.25" y="719" width="18" height="26"/>
<rect class="gg" x="1171.3" y="730" width="2.2" height="5"/>
<rect class="t" x="1151.25" y="810" width="22.5" height="30"/>
<rect class="g" x="1153.25" y="812" width="18" height="26"/>
<rect class="gg" x="1171.3" y="823" width="2.2" height="5"/>
<text class="s" x="1074.25" y="762.5" font-size="13" textLength="54.5" lengthAdjust="spacingAndGlyphs">PRIMARY</text>
<text class="s" x="1085" y="775" font-size="13" textLength="33" lengthAdjust="spacingAndGlyphs">BATH</text>
<path class="u" d="M1084.5 776.8L1118.5 776.8"/>
<text class="l" x="1085" y="787.99" font-size="8.3" textLength="33" lengthAdjust="spacingAndGlyphs">FLR:TILE</text>
<text class="l" x="1082.5" y="797.24" font-size="8.3" textLength="37.5" lengthAdjust="spacingAndGlyphs">11'-0" CLG</text>
<path class="k" d="M1080.45 817L1087.87 810.68L1093.25 817L1087.87 823.32Z"/>
<circle class="tw" cx="1093.25" cy="817" r="8.3"/>
<path class="g" d="M1084.95 817L1101.55 817"/>
<text class="l" text-anchor="middle" x="1093.25" y="815.7" font-size="6">19</text>
<text class="l" text-anchor="middle" x="1093.25" y="823" font-size="6">A21</text>
<path class="k" d="M1129.05 817L1121.63 810.68L1116.25 817L1121.63 823.32Z"/>
<circle class="tw" cx="1116.25" cy="817" r="8.3"/>
<path class="g" d="M1107.95 817L1124.55 817"/>
<text class="l" text-anchor="middle" x="1116.25" y="815.7" font-size="6">18</text>
<text class="l" text-anchor="middle" x="1116.25" y="823" font-size="6">A21</text>
<g transform="translate(1098.75 875) rotate(0)"><rect class="tw" x="-14" y="-4.8" width="28" height="9.6" rx="4.8"/><text class="lb" text-anchor="middle" x="0" y="2.6" font-size="7.2" textLength="17" lengthAdjust="spacingAndGlyphs">2880</text></g>
<text class="l" transform="translate(1082 885) rotate(-90)" x="-7" y="2.16" font-size="6" textLength="14" lengthAdjust="spacingAndGlyphs">C&amp;T</text>
<text class="l" transform="translate(1048 836.25) rotate(-90)" x="-22.5" y="2.99" font-size="8.3" textLength="45" lengthAdjust="spacingAndGlyphs">9' FURR-DN.</text>
<text class="l" transform="translate(1058.25 832.5) rotate(-90)" x="-35" y="2.99" font-size="8.3" textLength="70" lengthAdjust="spacingAndGlyphs">FRAMELESS TEMP.</text>
<text class="l" transform="translate(1067.5 832.5) rotate(-90)" x="-36.25" y="2.99" font-size="8.3" textLength="72.5" lengthAdjust="spacingAndGlyphs">GLASS ENCLOSURE</text>
<path class="gb" d="M1043.2 871.5L1071 842.5"/>
<path class="t" d="M1043.6 796.3L1043.6 871.5"/>
<path class="d" d="M1051 796.3L1051 871.5"/>
<rect class="tw" x="1120.3" y="879.6" width="45.2" height="8.9"/>
<rect class="bk" x="1120.3" y="879.6" width="45.2" height="2.5"/>
<rect class="gf" x="1120.3" y="882.6" width="22.3" height="4"/>
<rect class="t" x="1142.8" y="883.6" width="21.8" height="3"/>
<path class="tk" d="M1098.5 884.9L1120.3 884.9"/>
<rect class="d" x="305" y="804.5" width="58.75" height="133.5"/>
<rect class="d" x="321.75" y="788.25" width="24.5" height="16.25"/>
<rect class="d" x="321.75" y="938" width="24.5" height="16.5"/>
<path class="d" d="M321.75 792.5L346.25 792.5"/>
<path class="d" d="M321.75 950.25L346.25 950.25"/>
<rect class="d" x="288.75" y="818" width="16.25" height="25.25"/>
<path class="d" d="M293 818L293 843.25"/>
<rect class="d" x="363.75" y="818" width="16.25" height="25.25"/>
<path class="d" d="M375.75 818L375.75 843.25"/>
<rect class="d" x="288.75" y="858.25" width="16.25" height="25.25"/>
<path class="d" d="M293 858.25L293 883.5"/>
<rect class="d" x="363.75" y="858.25" width="16.25" height="25.25"/>
<path class="d" d="M375.75 858.25L375.75 883.5"/>
<rect class="d" x="288.75" y="898.75" width="16.25" height="25.25"/>
<path class="d" d="M293 898.75L293 924"/>
<rect class="d" x="363.75" y="898.75" width="16.25" height="25.25"/>
<path class="d" d="M375.75 898.75L375.75 924"/>
<text class="s" x="312.5" y="860" font-size="13" textLength="43" lengthAdjust="spacingAndGlyphs">DINING</text>
<path class="u" d="M312 861.8L356 861.8"/>
<text class="l" x="314.25" y="872.49" font-size="8.3" textLength="39.5" lengthAdjust="spacingAndGlyphs">FLR:WOOD</text>
<text class="l" x="315" y="881.74" font-size="8.3" textLength="38" lengthAdjust="spacingAndGlyphs">11'-0" CLG</text>
<text class="l" transform="translate(429.5 871.25) rotate(-90)" x="-18.75" y="2.99" font-size="8.3" textLength="37.5" lengthAdjust="spacingAndGlyphs">CLG. LINE</text>
<path class="d" d="M266.25 984.5L433.75 984.5L526.25 1000.5L777 1000.5"/>
<path class="d" d="M234.5 1037.5L497.5 1037.5"/>
<path class="d" d="M433.75 865.5L741.25 865.5"/>
<path class="d" d="M433.75 876.5L741.25 876.5"/>
<path class="d" d="M536.25 771.25L486.25 771.25L486.25 779.5"/>
<path class="d" d="M620 771.25L653 771.25L653 971.25L620 971.25"/>
<path class="d" d="M486.25 962.5L486.25 971.25L536.25 971.25"/>
<rect class="d" x="536.25" y="763" width="83.75" height="43.25"/>
<rect class="d" x="542" y="770" width="72.25" height="36.25"/>
<path class="dk" d="M542 776L614.25 776"/>
<path class="d" d="M578 770L578 806.25"/>
<rect class="d" x="536.25" y="937" width="83.75" height="42.5"/>
<rect class="d" x="542" y="937" width="72.25" height="35.5"/>
<path class="dk" d="M542 966.5L614.25 966.5"/>
<path class="d" d="M578 937L578 972.5"/>
<rect class="d" x="465.5" y="815.5" width="44" height="110.75"/>
<rect class="d" x="471.5" y="820" width="38" height="100.75"/>
<path class="dk" d="M477 820L477 920.75"/>
<path class="d" d="M471.5 854.5L509.5 854.5"/>
<path class="d" d="M471.5 887.5L509.5 887.5"/>
<rect class="d" x="475.5" y="779.5" width="34" height="33.5"/>
<rect class="d" x="475.5" y="929.5" width="34" height="33"/>
<rect class="d" x="553.25" y="842.5" width="50.5" height="58"/>
<text class="s" x="558.25" y="819.25" font-size="13" textLength="41.25" lengthAdjust="spacingAndGlyphs">LIVING</text>
<path class="u" d="M557.75 821.05L600 821.05"/>
<text class="l" x="559.5" y="831.74" font-size="8.3" textLength="39.25" lengthAdjust="spacingAndGlyphs">FLR:WOOD</text>
<text class="l" x="558.75" y="841.24" font-size="8.3" textLength="41.25" lengthAdjust="spacingAndGlyphs">VLT'D CLG</text>
<text class="l" x="523.75" y="874.99" font-size="8.3" textLength="116.25" lengthAdjust="spacingAndGlyphs">8" W. WD. RIDGE BM. PER ENG.</text>
<text class="l" x="589.5" y="1007.49" font-size="8.3" textLength="66.75" lengthAdjust="spacingAndGlyphs">VISITABLE ROUTE</text>
<path class="k" d="M644.05 844.25L636.63 837.93L631.25 844.25L636.63 850.57Z"/>
<circle class="tw" cx="631.25" cy="844.25" r="8.3"/>
<path class="g" d="M622.95 844.25L639.55 844.25"/>
<text class="l" text-anchor="middle" x="631.25" y="842.95" font-size="6">2</text>
<text class="l" text-anchor="middle" x="631.25" y="850.25" font-size="6">A20</text>
<path class="k" d="M478.75 1022.3L472.43 1014.88L478.75 1009.5L485.07 1014.88Z"/>
<circle class="tw" cx="478.75" cy="1009.5" r="8.3"/>
<path class="g" d="M470.45 1009.5L487.05 1009.5"/>
<text class="l" text-anchor="middle" x="478.75" y="1008.2" font-size="6">3</text>
<text class="l" text-anchor="middle" x="478.75" y="1015.5" font-size="6">A20</text>
<text class="l" transform="translate(663.25 803.75) rotate(-90)" x="-18.75" y="2.99" font-size="8.3" textLength="37.5" lengthAdjust="spacingAndGlyphs">SLP. CLG.</text>
<text class="l" transform="translate(673 803.5) rotate(-90)" x="-23.5" y="2.99" font-size="8.3" textLength="47" lengthAdjust="spacingAndGlyphs">@ 5:12 PITCH</text>
<path class="t" d="M668 776L668 830"/>
<path class="k" d="M668 836L666.6 829L669.4 829Z"/>
<text class="l" transform="translate(663.25 938.75) rotate(-90)" x="-18.75" y="2.99" font-size="8.3" textLength="37.5" lengthAdjust="spacingAndGlyphs">SLP. CLG.</text>
<text class="l" transform="translate(673 937.5) rotate(-90)" x="-23.5" y="2.99" font-size="8.3" textLength="47" lengthAdjust="spacingAndGlyphs">@ 5:12 PITCH</text>
<path class="t" d="M668 912L668 966"/>
<path class="k" d="M668 906L669.4 913L666.6 913Z"/>
<path class="d" d="M777 742.5L684.5 742.5L684.5 1000.5"/>
<path class="d" d="M777 742.5L838.75 742.5L838.75 788"/>
<path class="t" d="M777 771.25L760.5 771.25L760.5 788.25L741.25 788.25L741.25 953.75L760.5 953.75L760.5 971.25L777 971.25"/>
<path class="t" d="M777 788.25L777 971.25"/>
<rect class="t" x="749.8" y="796.4" width="19.2" height="149.9"/>
<rect class="tw" x="741.25" y="838.6" width="22.45" height="65.4"/>
<rect class="g" x="741.25" y="842.8" width="20.65" height="56.7"/>
<path class="t" d="M750 878L750 899.5"/>
<text class="l" x="747.5" y="891.16" font-size="6" textLength="5" lengthAdjust="spacingAndGlyphs">✶</text>
<path class="t" d="M735 805L741.25 805"/>
<circle class="t" cx="737.3" cy="930.5" r="1.4"/>
<path class="t" d="M738.7 930.5L749.8 930.5"/>
<path class="t" d="M741.25 804.5L711.25 804.5L711.25 937.5L741.25 937.5"/>
<text class="l" transform="translate(717.5 871.25) rotate(-90)" x="-70" y="2.99" font-size="8.3" textLength="140" lengthAdjust="spacingAndGlyphs">42" MAJESTIC QUARTZ D.V. FIREBOX</text>
<text class="l" transform="translate(726.25 871.88) rotate(-90)" x="-48.12" y="2.99" font-size="8.3" textLength="96.25" lengthAdjust="spacingAndGlyphs">RE: #22 GEN. PLAN NOTES</text>
<path class="d" d="M760.5 971.25L760.5 1029.5"/>
<path class="d" d="M777 971.25L777 1029.5"/>
<text class="l" transform="translate(764.25 1000.62) rotate(-90)" x="-10.62" y="2.99" font-size="8.3" textLength="21.25" lengthAdjust="spacingAndGlyphs">ARCH</text>
<text class="l" transform="translate(774.25 1000.62) rotate(-90)" x="-18.12" y="2.99" font-size="8.3" textLength="36.25" lengthAdjust="spacingAndGlyphs">FURR-DN.</text>
<path class="t" d="M777 780.1L816.3 780.1"/>
<path class="t" d="M816.3 780.1L816.3 788.4"/>
<path class="t" d="M777 788.4L860 788.4"/>
<path class="t" d="M777 896.1L868.7 896.1"/>
<path class="t" d="M808 788.4L808 846.6"/>
<path class="t" d="M777 846.6L808 846.6"/>
<rect class="t" x="780.3" y="802" width="21.9" height="29.2"/>
<rect class="g" x="782.2" y="804" width="18" height="25.2"/>
<rect class="gg" x="780.5" y="814.5" width="1.7" height="5.5"/>
<rect class="tw" x="779.6" y="858.4" width="11.6" height="25.9" rx="3"/>
<ellipse class="tw" cx="805.7" cy="871.3" rx="14.6" ry="9.7"/>
<rect class="t" x="859.2" y="788.4" width="2.4" height="43.8"/>
<path class="t" d="M860.4 832.2A43.8 43.8 0 0 1 816.6 788.4"/>
<g transform="translate(852.5 811.25) rotate(-90)"><rect class="tw" x="-14" y="-4.8" width="28" height="9.6" rx="4.8"/><text class="lb" text-anchor="middle" x="0" y="2.6" font-size="7.2" textLength="17" lengthAdjust="spacingAndGlyphs">2880</text></g>
<text class="l" transform="translate(824.5 788) rotate(-90)" x="-7" y="2.16" font-size="6" textLength="14" lengthAdjust="spacingAndGlyphs">T&amp;W</text>
<rect class="d" x="823.4" y="848.8" width="41.8" height="42.3"/>
<path class="gb" d="M847.5 854.1L870.2 879"/>
<path class="t" d="M847.5 854.1L861.5 847.5"/>
<text class="s" x="813.75" y="845.5" font-size="13" textLength="41.25" lengthAdjust="spacingAndGlyphs">BATH 2</text>
<path class="u" d="M813.25 847.3L855.5 847.3"/>
<text class="l" x="817" y="857.99" font-size="8.3" textLength="33" lengthAdjust="spacingAndGlyphs">FLR:TILE</text>
<text class="l" x="812.5" y="866.74" font-size="8.3" textLength="41.25" lengthAdjust="spacingAndGlyphs">10'-0" CLG</text>
<path class="k" d="M819.7 878.75L827.12 872.43L832.5 878.75L827.12 885.07Z"/>
<circle class="tw" cx="832.5" cy="878.75" r="8.3"/>
<path class="g" d="M824.2 878.75L840.8 878.75"/>
<text class="l" text-anchor="middle" x="832.5" y="877.45" font-size="6">16</text>
<text class="l" text-anchor="middle" x="832.5" y="884.75" font-size="6">A20</text>
<path class="k" d="M864.05 878.75L856.63 872.43L851.25 878.75L856.63 885.07Z"/>
<circle class="tw" cx="851.25" cy="878.75" r="8.3"/>
<path class="g" d="M842.95 878.75L859.55 878.75"/>
<text class="l" text-anchor="middle" x="851.25" y="877.45" font-size="6">17</text>
<text class="l" text-anchor="middle" x="851.25" y="884.75" font-size="6">A20</text>
<text class="l" transform="translate(865 843.75) rotate(-90)" x="-22.5" y="2.99" font-size="8.3" textLength="45" lengthAdjust="spacingAndGlyphs">9' FURR-DN.</text>
<path class="t" d="M874.3 813.3L918.7 813.3"/>
<path class="t" d="M874.3 813.3L918.7 879.8"/>
<path class="t" d="M918.7 813.3L874.3 879.8"/>
<path class="d" d="M870.2 813.3L870.2 879.8"/>
<path class="d" d="M873.4 813.3L873.4 879.8"/>
<path class="g" d="M868.9 813.3L868.9 879.8"/>
<text class="l" x="886.25" y="799.99" font-size="8.3" textLength="18.75" lengthAdjust="spacingAndGlyphs">18" H.</text>
<text class="l" x="886.25" y="808.74" font-size="8.3" textLength="18.75" lengthAdjust="spacingAndGlyphs">SEAT</text>
<text class="l" x="880" y="836.24" font-size="8.3" textLength="30" lengthAdjust="spacingAndGlyphs">RECESS</text>
<text class="l" x="875" y="844.99" font-size="8.3" textLength="39.5" lengthAdjust="spacingAndGlyphs">SLAB FOR</text>
<text class="l" x="884.5" y="854.24" font-size="8.3" textLength="20.5" lengthAdjust="spacingAndGlyphs">SHWR.</text>
<text class="l" x="873.75" y="862.99" font-size="8.3" textLength="41.25" lengthAdjust="spacingAndGlyphs">10'-0" CLG</text>
<path class="t" d="M893.5 868L895 870.5L896.5 868"/>
<path class="t" d="M895 870.5L895 877"/>
<path class="t" d="M892 874L892 877"/>
<path class="t" d="M898 874L898 877"/>
<rect class="gg" x="931" y="791.7" width="41.5" height="83.9"/>
<rect class="t" x="932.8" y="793.6" width="38" height="80.2"/>
<path class="d" d="M926.9 788.4L985 834"/>
<path class="d" d="M926.9 879.3L985 834"/>
<path class="t" d="M985 834L1043.2 788.4"/>
<path class="t" d="M985 834L1043.2 879.3"/>
<circle class="tw" cx="985" cy="834" r="2.6"/>
<circle class="t" cx="985" cy="834" r="0.9"/>
<text class="l" transform="translate(947 835.62) rotate(-90)" x="-24.38" y="2.99" font-size="8.3" textLength="48.75" lengthAdjust="spacingAndGlyphs">30x60 FREE</text>
<text class="l" transform="translate(955.5 835.62) rotate(-90)" x="-26.88" y="2.99" font-size="8.3" textLength="53.75" lengthAdjust="spacingAndGlyphs">STANDING TUB</text>
<text class="l" x="976.25" y="812.99" font-size="8.3" textLength="41.75" lengthAdjust="spacingAndGlyphs">10'-0" CLG</text>
<text class="l" x="1002.5" y="829.24" font-size="8.3" textLength="29.5" lengthAdjust="spacingAndGlyphs">RECESS</text>
<text class="l" x="997.5" y="838.49" font-size="8.3" textLength="38.75" lengthAdjust="spacingAndGlyphs">SLAB FOR</text>
<text class="l" x="1005.5" y="847.99" font-size="8.3" textLength="22" lengthAdjust="spacingAndGlyphs">SHWR.</text>
<path class="k" d="M978.6 854.9L986.02 848.58L991.4 854.9L986.02 861.22Z"/>
<circle class="tw" cx="991.4" cy="854.9" r="8.3"/>
<path class="g" d="M983.1 854.9L999.7 854.9"/>
<text class="l" text-anchor="middle" x="991.4" y="853.6" font-size="6">56</text>
<text class="l" text-anchor="middle" x="991.4" y="860.9" font-size="6">A22</text>
<path class="t" d="M1008.5 790.5L1010 793.3L1011.5 790.5"/>
<path class="t" d="M1010 793.3L1010 798.5"/>
<path class="t" d="M1006 793.5L1006 797"/>
<path class="t" d="M1014 793.5L1014 797"/>
<path class="t" d="M1008.5 877.2L1010 874.4L1011.5 877.2"/>
<path class="t" d="M1010 874.4L1010 869.2"/>
<path class="t" d="M1006 874.2L1006 870.7"/>
<path class="t" d="M1014 874.2L1014 870.7"/>
<path class="t" d="M928 830L936 830"/>
<path class="t" d="M928 838L936 838"/>
<path class="t" d="M934 832.5L936.5 834L934 835.5"/>
<rect class="tw" x="942.3" y="880.8" width="14.3" height="7.8"/>
<circle class="t" cx="946" cy="884.7" r="1.6"/>
<circle class="t" cx="952.5" cy="884.7" r="1.6"/>
<rect class="t" x="777.3" y="904.7" width="91.4" height="32.5"/>
<path class="d" d="M777.3 921.8L868.7 921.8"/>
<path class="d" d="M808 904.7L808 921.8"/>
<path class="d" d="M839.2 904.7L839.2 921.8"/>
<text class="l" x="785" y="933.49" font-size="8.3" textLength="77" lengthAdjust="spacingAndGlyphs">BENCH W/ LOCKERS</text>
<text class="s" x="809.5" y="963.75" font-size="13" textLength="30.5" lengthAdjust="spacingAndGlyphs">MUD.</text>
<path class="u" d="M809 965.55L840.5 965.55"/>
<text class="l" x="806.25" y="976.74" font-size="8.3" textLength="39.25" lengthAdjust="spacingAndGlyphs">FLR:WOOD</text>
<text class="l" x="807" y="985.49" font-size="8.3" textLength="37.5" lengthAdjust="spacingAndGlyphs">11'-0" CLG</text>
<path class="k" d="M792 963.45L785.68 970.87L792 976.25L798.32 970.87Z"/>
<circle class="tw" cx="792" cy="976.25" r="8.3"/>
<path class="g" d="M783.7 976.25L800.3 976.25"/>
<text class="l" text-anchor="middle" x="792" y="974.95" font-size="6">13</text>
<text class="l" text-anchor="middle" x="792" y="982.25" font-size="6">A20</text>
<path class="g" d="M869.2 896.3L869.2 946.3"/>
<path class="g" d="M872 896.3L872 946.3"/>
<path class="g" d="M874.2 896.3L874.2 946.3"/>
<path class="g" d="M876.6 896.3L876.6 946.3"/>
<path class="gb" d="M872.9 922L872.9 946.3"/>
<path class="g" d="M872.5 946.3L872.5 996.25"/>
<g transform="translate(880.5 971.25) rotate(-90)"><rect class="tw" x="-14" y="-4.8" width="28" height="9.6" rx="4.8"/><text class="lb" text-anchor="middle" x="0" y="2.6" font-size="7.2" textLength="17" lengthAdjust="spacingAndGlyphs">3080</text></g>
<text class="l" x="865.5" y="993.41" font-size="6" textLength="11.5" lengthAdjust="spacingAndGlyphs">W&amp;T</text>
<rect class="wn" x="810" y="1037.5" width="50" height="8.75"/>
<path class="g" d="M810 1037.9L860 1037.9"/>
<path class="g" d="M810 1045.8L860 1045.8"/>
<path class="t" d="M860 1037.5L825 1002L826.1 1000.9L861.1 1036.4Z"/>
<path class="t" d="M810 1037.5A50 50 0 0 1 824.89 1001.9"/>
<path class="d" d="M777 1000.5L833.75 1000.5L833.75 1037.5"/>
<text class="lb" x="823.75" y="1044.66" font-size="7.4" textLength="20.75" lengthAdjust="spacingAndGlyphs">3080</text>
<text class="l" x="807" y="1054.24" font-size="8.3" textLength="53.5" lengthAdjust="spacingAndGlyphs">RATED DOOR</text>
<text class="l" x="757.5" y="1066.24" font-size="8.3" textLength="39.5" lengthAdjust="spacingAndGlyphs">VISITABLE</text>
<text class="l" x="757" y="1075.49" font-size="8.3" textLength="40" lengthAdjust="spacingAndGlyphs">ENTRANCE</text>
<text class="l" x="746.25" y="1084.74" font-size="8.3" textLength="60.75" lengthAdjust="spacingAndGlyphs">1/2" THRESHOLD</text>
<path class="t" d="M797 1063.25L805 1063.25L817.5 1044.5"/>
<path class="k" d="M818.75 1041.25L817.49 1046.81L814.84 1045.4Z"/>
<rect class="t" x="695.5" y="1046.25" width="20.75" height="13.25"/>
<path class="t" d="M711.5 1046.25L711.5 1059.5"/>
<text class="l" x="709.5" y="1055.16" font-size="6" textLength="5" lengthAdjust="spacingAndGlyphs">✶</text>
<text class="l" x="675.5" y="1068.49" font-size="8.3" textLength="54.5" lengthAdjust="spacingAndGlyphs">TANKLESS W.H.</text>
<path class="g" d="M877 888.4L985 888.4"/>
<path class="t" d="M892.9 888.4L892.9 929.5"/>
<path class="g" d="M931 888.4L931 929.5"/>
<path class="t" d="M969.5 888.4L969.5 929.5"/>
<path class="t" d="M877 929.5L985 929.5"/>
<rect class="g" x="894.5" y="929.5" width="34.5" height="2"/>
<rect class="g" x="933" y="929.5" width="34.5" height="2"/>
<text class="l" x="895" y="901.24" font-size="8.3" textLength="74.5" lengthAdjust="spacingAndGlyphs">30" D. BASE CABS.</text>
<text class="l" x="906.25" y="919.99" font-size="8.3" textLength="51.25" lengthAdjust="spacingAndGlyphs">FRONT-LOAD</text>
<text class="l" x="900" y="928.74" font-size="8.3" textLength="65" lengthAdjust="spacingAndGlyphs">WASHER/ DRYER</text>
<path class="t" d="M900 930L965 930"/>
<text class="s" x="907" y="963.25" font-size="13" textLength="46.75" lengthAdjust="spacingAndGlyphs">UTILITY</text>
<path class="u" d="M906.5 965.05L954.25 965.05"/>
<text class="l" x="914.5" y="975.99" font-size="8.3" textLength="32.5" lengthAdjust="spacingAndGlyphs">FLR:TILE</text>
<text class="l" x="910" y="984.99" font-size="8.3" textLength="42" lengthAdjust="spacingAndGlyphs">10'-0" CLG</text>
<path class="k" d="M970.5 939.7L964.18 947.12L970.5 952.5L976.82 947.12Z"/>
<circle class="tw" cx="970.5" cy="952.5" r="8.3"/>
<path class="g" d="M962.2 952.5L978.8 952.5"/>
<text class="l" text-anchor="middle" x="970.5" y="951.2" font-size="6">14</text>
<text class="l" text-anchor="middle" x="970.5" y="958.5" font-size="6">A20</text>
<path class="k" d="M970.5 989.8L964.18 982.38L970.5 977L976.82 982.38Z"/>
<circle class="tw" cx="970.5" cy="977" r="8.3"/>
<path class="g" d="M962.2 977L978.8 977"/>
<text class="l" text-anchor="middle" x="970.5" y="975.7" font-size="6">15</text>
<text class="l" text-anchor="middle" x="970.5" y="983" font-size="6">A20</text>
<path class="t" d="M876.5 1005L985 1005"/>
<path class="d" d="M876.5 1021.25L985 1021.25"/>
<rect class="tw" x="916.25" y="1006.25" width="29.25" height="28.75"/>
<rect class="g" x="918.5" y="1008.5" width="24.75" height="21"/>
<circle class="t" cx="925.5" cy="1032.3" r="1.1"/>
<circle class="t" cx="931" cy="1032.3" r="1.1"/>
<circle class="t" cx="936.5" cy="1032.3" r="1.1"/>
<path class="t" d="M887.5 889L887.5 892.5"/>
<path class="t" d="M893.5 889L893.5 892.5"/>
<path class="g" d="M985.5 896.5L985.5 921.25"/>
<path class="g" d="M992.75 896.5L992.75 921.25"/>
<path class="dk" d="M993.25 897L1010.5 914"/>
<path class="d" d="M1010.57 913.82A24.5 24.5 0 0 1 993.25 921"/>
<path class="t" d="M1025 917L1012 917L1000 912"/>
<path class="k" d="M993.5 910.5L999.66 910.38L999.08 913.12Z"/>
<text class="l" x="1025" y="919.99" font-size="8.3" textLength="43.25" lengthAdjust="spacingAndGlyphs">PASS-THRU</text>
<path class="d" d="M1007 888.75L1007 1037.5"/>
<path class="d" d="M1192.5 888.75L1192.5 1037.5"/>
<path class="d" d="M993.25 1023.75L1207 1023.75"/>
<path class="d" d="M1085.75 957L1085.75 1037.5"/>
<path class="d" d="M1114.5 957L1114.5 1037.5"/>
<path class="g" d="M1009.5 888.75L1009.5 1021.25L1083 1021.25L1083 957"/>
<path class="g" d="M1117 957L1117 1021.25L1190 1021.25L1190 888.75"/>
<path class="g" d="M1011.1 888.75L1011.1 1019.65L1081.4 1019.65L1081.4 957"/>
<path class="g" d="M1118.6 957L1118.6 1019.65L1188.4 1019.65L1188.4 888.75"/>
<rect class="tw" x="1071.75" y="954.5" width="56.25" height="2.5"/>
<path class="d" d="M1020.5 888.75L1020.5 1010L1072 1010L1072 957"/>
<path class="d" d="M1128.75 957L1128.75 1010L1178.5 1010L1178.5 888.75"/>
<rect class="tw" x="1026.25" y="888.75" width="42.5" height="15.75"/>
<rect class="tw" x="1128.75" y="888.75" width="43.75" height="15.75"/>
<text class="l" x="1028.75" y="899.99" font-size="8.3" textLength="34.5" lengthAdjust="spacingAndGlyphs">SHELVES</text>
<text class="l" x="1133.75" y="899.99" font-size="8.3" textLength="35" lengthAdjust="spacingAndGlyphs">SHELVES</text>
<text class="s" x="1034.5" y="942" font-size="13" textLength="23.75" lengthAdjust="spacingAndGlyphs">HER</text>
<text class="s" x="1030.5" y="955.75" font-size="13" textLength="32" lengthAdjust="spacingAndGlyphs">W.I.C.</text>
<path class="u" d="M1030 957.55L1063 957.55"/>
<text class="s" x="1145" y="942" font-size="13" textLength="19.25" lengthAdjust="spacingAndGlyphs">HIS</text>
<text class="s" x="1138.75" y="955.75" font-size="13" textLength="31.75" lengthAdjust="spacingAndGlyphs">W.I.C.</text>
<path class="u" d="M1138.25 957.55L1171 957.55"/>
<text class="l" x="1021.25" y="968.49" font-size="8.3" textLength="49.5" lengthAdjust="spacingAndGlyphs">FLR:CARPET</text>
<text class="l" x="1027.5" y="977.49" font-size="8.3" textLength="37.5" lengthAdjust="spacingAndGlyphs">11'-0" CLG</text>
<text class="l" x="1130" y="968.49" font-size="8.3" textLength="48.75" lengthAdjust="spacingAndGlyphs">FLR:CARPET</text>
<text class="l" x="1135.75" y="977.49" font-size="8.3" textLength="38" lengthAdjust="spacingAndGlyphs">11'-0" CLG</text>
<text class="l" x="1085" y="952.99" font-size="8.3" textLength="31.25" lengthAdjust="spacingAndGlyphs">MIRROR</text>
<text class="l" transform="translate(1220 963.12) rotate(-90)" x="-19.38" y="2.99" font-size="8.3" textLength="38.75" lengthAdjust="spacingAndGlyphs">1626 FGDL</text>
<text class="l" transform="translate(1228.75 963) rotate(-90)" x="-21" y="2.99" font-size="8.3" textLength="42" lengthAdjust="spacingAndGlyphs">@ 8'-0" H.H.</text>
<text class="l" x="1133.75" y="1054.24" font-size="8.3" textLength="39.25" lengthAdjust="spacingAndGlyphs">1626 FGDL</text>
<text class="l" x="1132.5" y="1062.99" font-size="8.3" textLength="42" lengthAdjust="spacingAndGlyphs">@ 8'-0" H.H.</text>
<text class="l" x="1036.25" y="1059.24" font-size="8.3" textLength="10.75" lengthAdjust="spacingAndGlyphs">HB</text>
<path class="t" d="M1030 1046.25L1030 1056.5"/>
<path class="t" d="M1027.5 1051.25L1032.5 1051.25"/>
<path class="t" d="M234.5 1046.25L234.5 1287"/>
<path class="t" d="M234.5 1287L350.5 1287"/>
<text class="l" transform="translate(180 1061.5) rotate(-90)" x="-5.5" y="2.66" font-size="7.4" textLength="11" lengthAdjust="spacingAndGlyphs">HB</text>
<path class="t" d="M182 1051.75L192.5 1051.75"/>
<path class="t" d="M185.75 1049.5L185.75 1054"/>
<rect class="d" x="201.25" y="1046.25" width="16.75" height="30"/>
<rect class="d" x="201.25" y="1181.25" width="16.75" height="30.75"/>
<text class="l" transform="translate(179.25 1129.75) rotate(-90)" x="-28.25" y="2.99" font-size="8.3" textLength="56.5" lengthAdjust="spacingAndGlyphs">(2) 2860 FGDL</text>
<text class="l" transform="translate(189 1129.75) rotate(-90)" x="-38.25" y="2.99" font-size="8.3" textLength="76.5" lengthAdjust="spacingAndGlyphs">MULLED @ 9'-6" H.H.</text>
<rect class="d" x="213.25" y="1112" width="21.75" height="34.25"/>
<text class="l" transform="translate(230.75 1129.38) rotate(-90)" x="-13.12" y="2.99" font-size="8.3" textLength="26.25" lengthAdjust="spacingAndGlyphs">MICRO</text>
<text class="l" transform="translate(240 1129.38) rotate(-90)" x="-11.88" y="2.99" font-size="8.3" textLength="23.75" lengthAdjust="spacingAndGlyphs">DRWR</text>
<path class="t" d="M433.75 1037.5L433.75 1105L301.25 1105L301.25 1037.5"/>
<path class="t" d="M301.25 1037.5L433.75 1037.5"/>
<rect class="d" x="303.75" y="1039.5" width="126.75" height="22.5"/>
<path class="d" d="M301.25 1071.25L433.75 1071.25"/>
<rect class="d" x="305.5" y="1071.25" width="33.25" height="32.5"/>
<rect class="d" x="395.5" y="1071.25" width="25" height="32.5"/>
<path class="gg" d="M305.5 1104.5L338.75 1104.5"/>
<path class="gg" d="M395.5 1104.5L420.5 1104.5"/>
<rect class="t" x="344.3" y="1073.5" width="46.1" height="29"/>
<rect class="t" x="346.5" y="1079.5" width="20" height="21"/>
<rect class="t" x="368" y="1079.5" width="20.5" height="21"/>
<circle class="t" cx="362" cy="1076.5" r="1"/>
<circle class="t" cx="367.5" cy="1076.5" r="1"/>
<circle class="t" cx="373" cy="1076.5" r="1"/>
<circle class="t" cx="356.25" cy="1090" r="1.6"/>
<path class="d" d="M308 1037.5L307.5 1024Q307.5 1018 313.5 1017.5Q320 1014.5 326.5 1017.5Q332.5 1018 332.5 1024L332 1037.5"/>
<path class="d" d="M339.75 1037.5L339.25 1024Q339.25 1018 345.25 1017.5Q351.75 1014.5 358.25 1017.5Q364.25 1018 364.25 1024L363.75 1037.5"/>
<path class="d" d="M371.5 1037.5L371 1024Q371 1018 377 1017.5Q383.5 1014.5 390 1017.5Q396 1018 396 1024L395.5 1037.5"/>
<path class="d" d="M403.5 1037.5L403 1024Q403 1018 409 1017.5Q415.5 1014.5 422 1017.5Q428 1018 428 1024L427.5 1037.5"/>
<text class="l" x="345" y="1034.99" font-size="8.3" textLength="48.25" lengthAdjust="spacingAndGlyphs">10' FURR-DN.</text>
<text class="l" x="328.75" y="1053.74" font-size="8.3" textLength="73" lengthAdjust="spacingAndGlyphs">18" D. KNEE SPACE</text>
<text class="l" x="317" y="1102.49" font-size="8.3" textLength="12" lengthAdjust="spacingAndGlyphs">DW</text>
<text class="l" x="401.25" y="1102.99" font-size="8.3" textLength="12.5" lengthAdjust="spacingAndGlyphs">T.D.</text>
<text class="l" x="340.5" y="1112.24" font-size="8.3" textLength="52" lengthAdjust="spacingAndGlyphs">SINK W/ DISP.</text>
<path class="k" d="M284.05 1075.5L276.63 1069.18L271.25 1075.5L276.63 1081.82Z"/>
<circle class="tw" cx="271.25" cy="1075.5" r="8.3"/>
<path class="g" d="M262.95 1075.5L279.55 1075.5"/>
<text class="l" text-anchor="middle" x="271.25" y="1074.2" font-size="6">9</text>
<text class="l" text-anchor="middle" x="271.25" y="1081.5" font-size="6">A20</text>
<path class="k" d="M258.7 1125.25L266.12 1118.93L271.5 1125.25L266.12 1131.57Z"/>
<circle class="tw" cx="271.5" cy="1125.25" r="8.3"/>
<path class="g" d="M263.2 1125.25L279.8 1125.25"/>
<text class="l" text-anchor="middle" x="271.5" y="1123.95" font-size="6">4</text>
<text class="l" text-anchor="middle" x="271.5" y="1131.25" font-size="6">A20</text>
<path class="k" d="M481.05 1073.25L473.63 1066.93L468.25 1073.25L473.63 1079.57Z"/>
<circle class="tw" cx="468.25" cy="1073.25" r="8.3"/>
<path class="g" d="M459.95 1073.25L476.55 1073.25"/>
<text class="l" text-anchor="middle" x="468.25" y="1071.95" font-size="6">6</text>
<text class="l" text-anchor="middle" x="468.25" y="1079.25" font-size="6">A20</text>
<path class="k" d="M454.7 1096.25L462.12 1089.93L467.5 1096.25L462.12 1102.57Z"/>
<circle class="tw" cx="467.5" cy="1096.25" r="8.3"/>
<path class="g" d="M459.2 1096.25L475.8 1096.25"/>
<text class="l" text-anchor="middle" x="467.5" y="1094.95" font-size="6">7</text>
<text class="l" text-anchor="middle" x="467.5" y="1102.25" font-size="6">A20</text>
<path class="k" d="M330 1123.45L323.68 1130.87L330 1136.25L336.32 1130.87Z"/>
<circle class="tw" cx="330" cy="1136.25" r="8.3"/>
<path class="g" d="M321.7 1136.25L338.3 1136.25"/>
<text class="l" text-anchor="middle" x="330" y="1134.95" font-size="6">8</text>
<text class="l" text-anchor="middle" x="330" y="1142.25" font-size="6">A20</text>
<path class="k" d="M376.25 1144.8L369.93 1137.38L376.25 1132L382.57 1137.38Z"/>
<circle class="tw" cx="376.25" cy="1132" r="8.3"/>
<path class="g" d="M367.95 1132L384.55 1132"/>
<text class="l" text-anchor="middle" x="376.25" y="1130.7" font-size="6">5</text>
<text class="l" text-anchor="middle" x="376.25" y="1138" font-size="6">A20</text>
<text class="s" x="420" y="1125" font-size="13" textLength="53.75" lengthAdjust="spacingAndGlyphs">KITCHEN</text>
<path class="u" d="M419.5 1126.8L474.25 1126.8"/>
<text class="l" x="427" y="1137.24" font-size="8.3" textLength="39.25" lengthAdjust="spacingAndGlyphs">FLR:WOOD</text>
<text class="l" x="425.75" y="1146.74" font-size="8.3" textLength="42.25" lengthAdjust="spacingAndGlyphs">10'-0" CLG</text>
<text class="l" x="340.5" y="1164.74" font-size="8.3" textLength="53.25" lengthAdjust="spacingAndGlyphs">48" RANGE W/</text>
<text class="l" x="335" y="1174.74" font-size="8.3" textLength="64.5" lengthAdjust="spacingAndGlyphs">VENTHOOD ABV.</text>
<path class="t" d="M300.5 1212L300.5 1178.5L500.7 1178.5L500.7 1148.2"/>
<rect class="d" x="329.5" y="1187" width="75" height="25"/>
<rect class="tw" x="333.75" y="1177" width="66.75" height="35"/>
<path class="t" d="M353 1177L353 1212"/>
<path class="t" d="M366.5 1177L366.5 1212"/>
<path class="g" d="M335.5 1180L398.5 1180"/>
<rect class="t" x="335.5" y="1180" width="16.5" height="31"/>
<rect class="t" x="367.5" y="1180" width="31" height="31"/>
<path class="t" d="M336.5 1180.5L351.5 1195.5"/>
<path class="t" d="M336.5 1195.5L351.5 1180.5"/>
<path class="g" d="M336.5 1188L351.5 1188"/>
<path class="g" d="M344 1180.5L344 1195.5"/>
<circle class="tw" cx="344" cy="1188" r="2"/>
<path class="t" d="M336.5 1195.5L351.5 1210.5"/>
<path class="t" d="M336.5 1210.5L351.5 1195.5"/>
<path class="g" d="M336.5 1203L351.5 1203"/>
<path class="g" d="M344 1195.5L344 1210.5"/>
<circle class="tw" cx="344" cy="1203" r="2"/>
<path class="t" d="M367.5 1180.5L382.5 1195.5"/>
<path class="t" d="M367.5 1195.5L382.5 1180.5"/>
<path class="g" d="M367.5 1188L382.5 1188"/>
<path class="g" d="M375 1180.5L375 1195.5"/>
<circle class="tw" cx="375" cy="1188" r="2"/>
<path class="t" d="M367.5 1195.5L382.5 1210.5"/>
<path class="t" d="M367.5 1210.5L382.5 1195.5"/>
<path class="g" d="M367.5 1203L382.5 1203"/>
<path class="g" d="M375 1195.5L375 1210.5"/>
<circle class="tw" cx="375" cy="1203" r="2"/>
<path class="t" d="M383 1180.5L398 1195.5"/>
<path class="t" d="M383 1195.5L398 1180.5"/>
<path class="g" d="M383 1188L398 1188"/>
<path class="g" d="M390.5 1180.5L390.5 1195.5"/>
<circle class="tw" cx="390.5" cy="1188" r="2"/>
<path class="t" d="M383 1195.5L398 1210.5"/>
<path class="t" d="M383 1210.5L398 1195.5"/>
<path class="g" d="M383 1203L398 1203"/>
<path class="g" d="M390.5 1195.5L390.5 1210.5"/>
<circle class="tw" cx="390.5" cy="1203" r="2"/>
<path class="t" d="M383 1180L383 1211"/>
<path class="t" d="M335.5 1195.5L352 1195.5"/>
<path class="t" d="M367.5 1195.5L398.5 1195.5"/>
<text class="l" x="357.5" y="1205.16" font-size="6" textLength="5" lengthAdjust="spacingAndGlyphs">✶</text>
<path class="t" d="M360 1203L360 1212"/>
<path class="gb" d="M500 1050.7L500 1142.5"/>
<path class="g" d="M503 1050.7L503 1142.5"/>
<path class="g" d="M500 1050L533.5 1050"/>
<path class="g" d="M500 1048.5L533.5 1048.5"/>
<path class="t" d="M525.5 1061.8L534 1061.8"/>
<path class="t" d="M529.7 1059.5L529.7 1064"/>
<rect class="g" x="500" y="1143.5" width="33.5" height="4.7"/>
<text class="l" transform="translate(508 1095) rotate(-90)" x="-23.75" y="2.99" font-size="8.3" textLength="47.5" lengthAdjust="spacingAndGlyphs">66" B.I. REF.</text>
<path class="d" d="M517.1 1148.8L517.1 1195.6L494.4 1195.6L494.4 1212"/>
<path class="d" d="M242.5 1212.5L292.5 1212.5"/>
<path class="d" d="M242.5 1220.25L292.5 1220.25"/>
<rect class="tw" x="292.5" y="1212" width="50" height="8.75"/>
<rect class="bk" x="292.5" y="1212" width="50" height="2.6"/>
<rect class="gf" x="267.5" y="1215.6" width="50" height="3"/>
<rect class="t" x="318" y="1216" width="23.5" height="3.5"/>
<g transform="translate(267.5 1204.5) rotate(0)"><rect class="tw" x="-14" y="-4.8" width="28" height="9.6" rx="4.8"/><text class="lb" text-anchor="middle" x="0" y="2.6" font-size="7.2" textLength="17" lengthAdjust="spacingAndGlyphs">3080</text></g>
<rect class="g" x="350.5" y="1220.75" width="1.6" height="99.25"/>
<path class="k" d="M239.7 1249.25L247.12 1242.93L252.5 1249.25L247.12 1255.57Z"/>
<circle class="tw" cx="252.5" cy="1249.25" r="8.3"/>
<path class="g" d="M244.2 1249.25L260.8 1249.25"/>
<text class="l" text-anchor="middle" x="252.5" y="1247.95" font-size="6">12</text>
<text class="l" text-anchor="middle" x="252.5" y="1255.25" font-size="6">A20</text>
<path class="k" d="M252 1283.3L245.68 1275.88L252 1270.5L258.32 1275.88Z"/>
<circle class="tw" cx="252" cy="1270.5" r="8.3"/>
<path class="g" d="M243.7 1270.5L260.3 1270.5"/>
<text class="l" text-anchor="middle" x="252" y="1269.2" font-size="6">11</text>
<text class="l" text-anchor="middle" x="252" y="1276.5" font-size="6">A20</text>
<path class="k" d="M343.3 1251.25L335.88 1244.93L330.5 1251.25L335.88 1257.57Z"/>
<circle class="tw" cx="330.5" cy="1251.25" r="8.3"/>
<path class="g" d="M322.2 1251.25L338.8 1251.25"/>
<text class="l" text-anchor="middle" x="330.5" y="1249.95" font-size="6">10</text>
<text class="l" text-anchor="middle" x="330.5" y="1257.25" font-size="6">A20</text>
<text class="s" x="265" y="1241.25" font-size="13" textLength="51.25" lengthAdjust="spacingAndGlyphs">BUTLER/</text>
<text class="s" x="266.25" y="1255" font-size="13" textLength="47.5" lengthAdjust="spacingAndGlyphs">PANTRY</text>
<path class="u" d="M265.75 1256.8L314.25 1256.8"/>
<text class="l" x="270" y="1267.49" font-size="8.3" textLength="39.5" lengthAdjust="spacingAndGlyphs">FLR:WOOD</text>
<text class="l" x="269.25" y="1276.74" font-size="8.3" textLength="42" lengthAdjust="spacingAndGlyphs">10'-0" CLG</text>
<text class="l" transform="translate(367 1267.75) rotate(-90)" x="-24.75" y="2.99" font-size="8.3" textLength="49.5" lengthAdjust="spacingAndGlyphs">24" D. CABS.</text>
<text class="l" transform="translate(178.75 1270.88) rotate(-90)" x="-21.62" y="2.99" font-size="8.3" textLength="43.25" lengthAdjust="spacingAndGlyphs">2860 FGDL</text>
<text class="l" transform="translate(187.5 1270.88) rotate(-90)" x="-21.62" y="2.99" font-size="8.3" textLength="43.25" lengthAdjust="spacingAndGlyphs">@ 9'-6" H.H.</text>
<text class="l" x="263.75" y="1336.74" font-size="8.3" textLength="57.5" lengthAdjust="spacingAndGlyphs">(2) 3060 FGDL</text>
<text class="l" x="253.75" y="1345.49" font-size="8.3" textLength="77.5" lengthAdjust="spacingAndGlyphs">MULLED @ 9'-6" H.H.</text>
<text class="l" x="442.5" y="1227.99" font-size="8.3" textLength="43" lengthAdjust="spacingAndGlyphs">2860 FGDL</text>
<text class="l" x="443.5" y="1237.99" font-size="8.3" textLength="42.75" lengthAdjust="spacingAndGlyphs">@ 9'-6" H.H.</text>
<g transform="translate(424 1256) rotate(-20)"><rect class="d" x="-18" y="-17.5" width="36" height="35"/><rect class="d" x="-13.5" y="-13" width="27" height="30.5"/><path class="dk" d="M-12 -8.5L12 -8.5"/></g>
<g transform="translate(501.25 1256) rotate(20)"><rect class="d" x="-18" y="-17.5" width="36" height="35"/><rect class="d" x="-13.5" y="-13" width="27" height="30.5"/><path class="dk" d="M-12 -8.5L12 -8.5"/></g>
<text class="l" transform="translate(459.25 1276.25) rotate(-90)" x="-13.75" y="2.99" font-size="8.3" textLength="27.5" lengthAdjust="spacingAndGlyphs">SLP. TO</text>
<text class="l" transform="translate(469.25 1276.25) rotate(-90)" x="-11.75" y="2.99" font-size="8.3" textLength="23.5" lengthAdjust="spacingAndGlyphs">DRAIN</text>
<path class="t" d="M463.75 1257L463.75 1295.5"/>
<path class="k" d="M463.75 1301.25L462.35 1294.25L465.15 1294.25Z"/>
<path class="d" d="M392.5 1314.5L633.25 1314.5"/>
<path class="dd" d="M392.5 1328.5L633.25 1328.5"/>
<text class="l" x="477" y="1324.99" font-size="8.3" textLength="60.5" lengthAdjust="spacingAndGlyphs">ARCH FURR-DN.</text>
<path class="d" d="M551 1054.7L624.5 1054.7"/>
<path class="d" d="M551 1037.6L624.5 1037.6"/>
<text class="l" x="564.25" y="1048.74" font-size="8.3" textLength="47" lengthAdjust="spacingAndGlyphs">10' FURR-DN.</text>
<text class="s" x="568" y="1104.5" font-size="13" textLength="39" lengthAdjust="spacingAndGlyphs">FOYER</text>
<path class="u" d="M567.5 1106.3L607.5 1106.3"/>
<text class="l" x="568" y="1116.74" font-size="8.3" textLength="39" lengthAdjust="spacingAndGlyphs">FLR:WOOD</text>
<text class="l" x="568.75" y="1125.99" font-size="8.3" textLength="37" lengthAdjust="spacingAndGlyphs">11'-0" CLG</text>
<path class="t" d="M542 1178.7L633.25 1178.7"/>
<path class="t" d="M542 1187.5L633.25 1187.5"/>
<path class="g" d="M542 1183L575.5 1183"/>
<path class="t" d="M575.5 1178.7L575.5 1187.5"/>
<path class="t" d="M633.25 1179.5L592 1138L593.2 1136.9L634.3 1178.3Z"/>
<path class="t" d="M574.95 1179.5A58.3 58.3 0 0 1 592.24 1138.06"/>
<text class="l" x="552.5" y="1195.99" font-size="8.3" textLength="69.5" lengthAdjust="spacingAndGlyphs">2080 FGDL, 3680</text>
<text class="l" x="558" y="1205.49" font-size="8.3" textLength="59.5" lengthAdjust="spacingAndGlyphs">DL DR W/ 2020</text>
<text class="l" x="552" y="1214.74" font-size="8.3" textLength="71" lengthAdjust="spacingAndGlyphs">FGDL, 3620 FG DL</text>
<text class="l" x="553.75" y="1224.24" font-size="8.3" textLength="67.5" lengthAdjust="spacingAndGlyphs">ABV. @ 10'-0" H.H.</text>
<text class="s" x="555.75" y="1251.25" font-size="13" textLength="36.75" lengthAdjust="spacingAndGlyphs">COV'D</text>
<text class="s" x="554.5" y="1265" font-size="13" textLength="39.75" lengthAdjust="spacingAndGlyphs">ENTRY</text>
<path class="u" d="M554 1266.8L594.75 1266.8"/>
<text class="l" x="545" y="1277.99" font-size="8.3" textLength="58.75" lengthAdjust="spacingAndGlyphs">FLR:CONCRETE</text>
<text class="l" x="547" y="1287.49" font-size="8.3" textLength="54.75" lengthAdjust="spacingAndGlyphs">11'-0" T&amp;G CLG</text>
<text class="s" x="732" y="1139.25" font-size="13" textLength="51" lengthAdjust="spacingAndGlyphs">GARAGE</text>
<path class="u" d="M731.5 1141.05L783.5 1141.05"/>
<text class="l" x="728.75" y="1151.74" font-size="8.3" textLength="58.25" lengthAdjust="spacingAndGlyphs">FLR:CONCRETE</text>
<text class="l" x="738.75" y="1160.99" font-size="8.3" textLength="37.5" lengthAdjust="spacingAndGlyphs">11'-0" CLG</text>
<text class="l" x="684.5" y="1175.49" font-size="8.3" textLength="152.5" lengthAdjust="spacingAndGlyphs">PROVIDE MINIMUM ⅝" TYPE X GYPSUM</text>
<text class="l" x="689.5" y="1184.99" font-size="8.3" textLength="136.5" lengthAdjust="spacingAndGlyphs">BOARD CEILING BETWEEN GARAGE</text>
<text class="l" x="694.5" y="1193.99" font-size="8.3" textLength="126.5" lengthAdjust="spacingAndGlyphs">AND HABITABLE ROOMS ABOVE</text>
<text class="l" x="696" y="1203.49" font-size="8.3" textLength="123.5" lengthAdjust="spacingAndGlyphs">COMPLYING WITH TABLE R302.6</text>
<text class="l" x="681" y="1212.99" font-size="8.3" textLength="153.5" lengthAdjust="spacingAndGlyphs">(DWELLING UNIT GARAGE SEPARATION)</text>
<path class="d" d="M990.5 1070.8L857.4 1070.8L857.4 1220.6L990.5 1220.6"/>
<text class="l" x="878" y="1152.99" font-size="8.3" textLength="29" lengthAdjust="spacingAndGlyphs">SLP. TO</text>
<path class="t" d="M874 1154.7L912 1154.7"/>
<path class="k" d="M918 1154.7L911 1156.1L911 1153.3Z"/>
<text class="l" x="880" y="1162.99" font-size="8.3" textLength="25" lengthAdjust="spacingAndGlyphs">DRAIN</text>
<text class="l" transform="translate(984.5 1145) rotate(-90)" x="-76" y="2.81" font-size="7.8" textLength="152" lengthAdjust="spacingAndGlyphs">9080 WOOD CLAD O.H. GARAGE DOOR</text>
<path class="g" d="M991.2 1070.75L991.2 1220"/>
<path class="g" d="M998.8 1070.75L998.8 1220"/>
<text class="sb" x="784.25" y="1342.5" font-size="24.5" textLength="71.5" lengthAdjust="spacingAndGlyphs">Garage</text>
<text class="l" x="785.25" y="1360.74" font-size="8.3" textLength="58.75" lengthAdjust="spacingAndGlyphs">FLR:CONCRETE</text>
<text class="l" x="796" y="1369.99" font-size="8.3" textLength="37.5" lengthAdjust="spacingAndGlyphs">11'-0" CLG</text>
<text class="l" x="874" y="1327.24" font-size="8.3" textLength="29.5" lengthAdjust="spacingAndGlyphs">SLP. TO</text>
<path class="t" d="M870 1329.25L908 1329.25"/>
<path class="k" d="M914 1329.25L907 1330.65L907 1327.85Z"/>
<text class="l" x="876.75" y="1336.99" font-size="8.3" textLength="24" lengthAdjust="spacingAndGlyphs">DRAIN</text>
<path class="d" d="M633.5 1274.5L633.5 1314.5"/>
<path class="d" d="M633.5 1328.25L633.5 1424.25"/>
<path class="d" d="M642 1274.5L642 1314.5"/>
<path class="d" d="M642 1328.25L642 1424.25"/>
<path class="d" d="M990.9 1274.5L990.9 1424.25"/>
<path class="d" d="M1000.7 1274.5L1000.7 1424.25"/>
<text class="l" transform="translate(639.25 1378.75) rotate(-90)" x="-18.75" y="2.74" font-size="7.6" textLength="37.5" lengthAdjust="spacingAndGlyphs">FURR-DN.</text>
<text class="l" transform="translate(995 1346.5) rotate(-90)" x="-17.5" y="2.74" font-size="7.6" textLength="35" lengthAdjust="spacingAndGlyphs">FURR-DN.</text>
<rect class="d" x="766.25" y="1444.5" width="99.75" height="8.75"/>
<text class="l" x="796" y="1452.24" font-size="7.6" textLength="35" lengthAdjust="spacingAndGlyphs">FURR-DN.</text>
</svg>
</body></html>
